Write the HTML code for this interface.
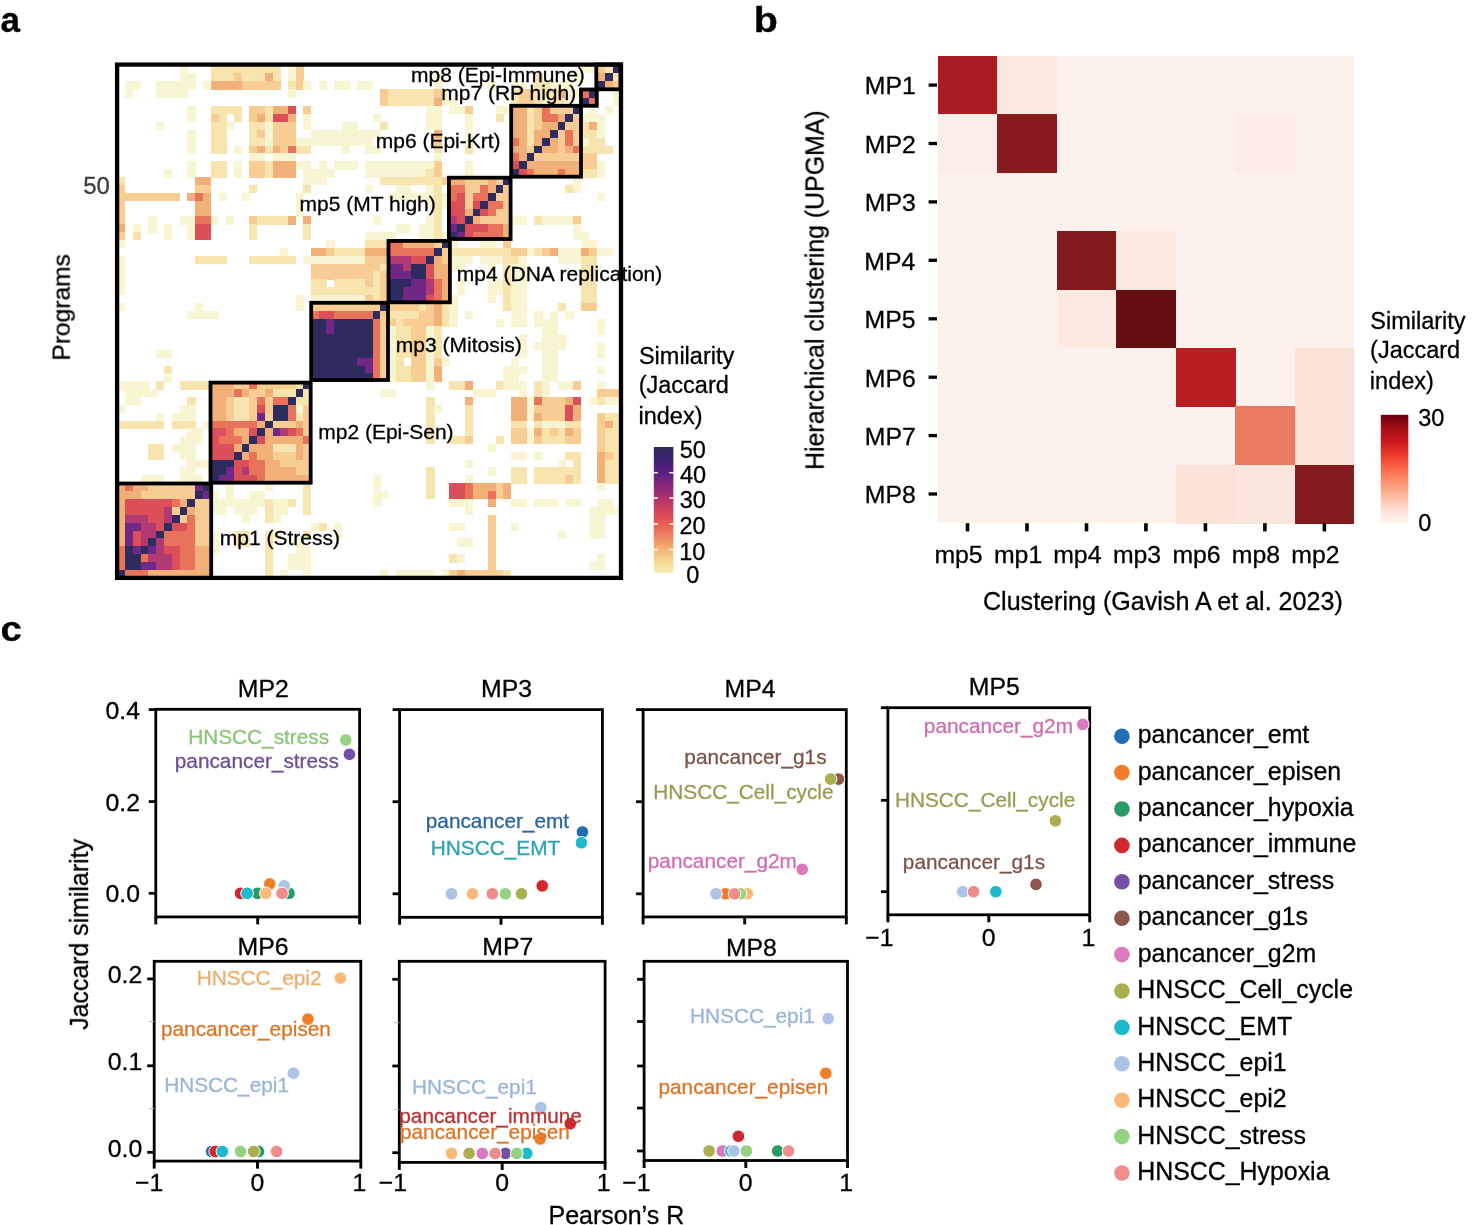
<!DOCTYPE html>
<html><head><meta charset="utf-8"><style>
html,body{margin:0;padding:0;background:#fff;}
svg{display:block;font-family:"Liberation Sans", sans-serif;}
text{stroke-width:0.3px;}
</style></head><body>
<svg width="1473" height="1225" viewBox="0 0 1473 1225">
<rect width="1473" height="1225" fill="#fff"/>
<g style="will-change:transform">
<text transform="translate(0.55,31.6) scale(0.989,1)" font-size="35.5" font-weight="bold" stroke="#000">a</text>
<text transform="translate(69.7,360.65) rotate(-90)" font-size="24.6" fill="#000" stroke="#000">Programs</text>
<text x="83.18" y="194" font-size="24" fill="#3c3c3c" stroke="#3c3c3c">50</text>
<g shape-rendering="crispEdges"><rect x="179.6" y="64.6" width="8.2" height="8.7" fill="#f7f5d2"/><rect x="210.8" y="64.6" width="69.8" height="8.7" fill="#f8e4ae"/><rect x="287.9" y="64.6" width="8.1" height="8.7" fill="#f7f5d2"/><rect x="295.6" y="64.6" width="8.1" height="8.7" fill="#f7cd94"/><rect x="581.0" y="64.6" width="15.9" height="8.7" fill="#f7f5d2"/><rect x="596.5" y="64.6" width="8.6" height="8.7" fill="#f7cd94"/><rect x="604.7" y="64.6" width="8.6" height="8.7" fill="#f8e4ae"/><rect x="612.8" y="64.6" width="8.6" height="8.7" fill="#2e2b5e"/><rect x="179.6" y="72.9" width="16.0" height="8.7" fill="#f7f5d2"/><rect x="210.8" y="72.9" width="23.5" height="8.7" fill="#f8e4ae"/><rect x="233.9" y="72.9" width="8.1" height="8.7" fill="#f7cd94"/><rect x="241.6" y="72.9" width="23.5" height="8.7" fill="#f8e4ae"/><rect x="264.8" y="72.9" width="8.1" height="8.7" fill="#f2b079"/><rect x="272.5" y="72.9" width="8.1" height="8.7" fill="#f8e4ae"/><rect x="287.9" y="72.9" width="8.1" height="8.7" fill="#f7f5d2"/><rect x="295.6" y="72.9" width="8.1" height="8.7" fill="#f7cd94"/><rect x="434.0" y="72.9" width="8.1" height="8.7" fill="#f7f5d2"/><rect x="534.3" y="72.9" width="8.2" height="8.7" fill="#f8e4ae"/><rect x="573.2" y="72.9" width="8.2" height="8.7" fill="#f7f5d2"/><rect x="596.5" y="72.9" width="8.6" height="8.7" fill="#f2b079"/><rect x="604.7" y="72.9" width="8.6" height="8.7" fill="#2e2b5e"/><rect x="612.8" y="72.9" width="8.6" height="8.7" fill="#f8e4ae"/><rect x="124.9" y="81.1" width="16.0" height="8.7" fill="#f7f5d2"/><rect x="156.1" y="81.1" width="39.4" height="8.7" fill="#f7f5d2"/><rect x="203.0" y="81.1" width="8.2" height="8.7" fill="#f7f5d2"/><rect x="210.8" y="81.1" width="31.2" height="8.7" fill="#f2b079"/><rect x="241.6" y="81.1" width="38.9" height="8.7" fill="#f7cd94"/><rect x="287.9" y="81.1" width="8.1" height="8.7" fill="#f8e4ae"/><rect x="295.6" y="81.1" width="8.1" height="8.7" fill="#f7cd94"/><rect x="303.3" y="81.1" width="8.1" height="8.7" fill="#f7f5d2"/><rect x="318.7" y="81.1" width="8.1" height="8.7" fill="#f7f5d2"/><rect x="334.1" y="81.1" width="15.8" height="8.7" fill="#f7f5d2"/><rect x="357.2" y="81.1" width="15.8" height="8.7" fill="#f7f5d2"/><rect x="434.0" y="81.1" width="8.1" height="8.7" fill="#f7f5d2"/><rect x="487.9" y="81.1" width="8.1" height="8.7" fill="#f7f5d2"/><rect x="511.0" y="81.1" width="16.0" height="8.7" fill="#f7f5d2"/><rect x="534.3" y="81.1" width="16.0" height="8.7" fill="#f8e4ae"/><rect x="549.9" y="81.1" width="23.7" height="8.7" fill="#f7f5d2"/><rect x="596.5" y="81.1" width="8.6" height="8.7" fill="#2e2b5e"/><rect x="604.7" y="81.1" width="8.6" height="8.7" fill="#f2b079"/><rect x="612.8" y="81.1" width="8.6" height="8.7" fill="#f7cd94"/><rect x="124.9" y="89.4" width="8.2" height="8.6" fill="#f7f5d2"/><rect x="156.1" y="89.4" width="31.6" height="8.6" fill="#f7f5d2"/><rect x="287.9" y="89.4" width="8.1" height="8.6" fill="#f7f5d2"/><rect x="380.3" y="89.4" width="8.1" height="8.6" fill="#f7cd94"/><rect x="388.0" y="89.4" width="46.4" height="8.6" fill="#f8e4ae"/><rect x="434.0" y="89.4" width="8.1" height="8.6" fill="#f7cd94"/><rect x="441.7" y="89.4" width="8.1" height="8.6" fill="#f7f5d2"/><rect x="511.0" y="89.4" width="8.2" height="8.6" fill="#f8e4ae"/><rect x="518.8" y="89.4" width="16.0" height="8.6" fill="#f7cd94"/><rect x="534.3" y="89.4" width="23.7" height="8.6" fill="#f8e4ae"/><rect x="557.7" y="89.4" width="8.2" height="8.6" fill="#f2b079"/><rect x="565.4" y="89.4" width="16.0" height="8.6" fill="#f7f5d2"/><rect x="581.0" y="89.4" width="8.2" height="8.6" fill="#e8735a"/><rect x="588.8" y="89.4" width="8.2" height="8.6" fill="#2e2b5e"/><rect x="612.8" y="89.4" width="8.6" height="8.6" fill="#f7f5d2"/><rect x="380.3" y="97.6" width="8.1" height="8.6" fill="#f7cd94"/><rect x="388.0" y="97.6" width="46.4" height="8.6" fill="#f8e4ae"/><rect x="434.0" y="97.6" width="8.1" height="8.6" fill="#f2b079"/><rect x="441.7" y="97.6" width="15.8" height="8.6" fill="#f7f5d2"/><rect x="511.0" y="97.6" width="8.2" height="8.6" fill="#f8e4ae"/><rect x="518.8" y="97.6" width="16.0" height="8.6" fill="#f7cd94"/><rect x="534.3" y="97.6" width="8.2" height="8.6" fill="#f8e4ae"/><rect x="542.1" y="97.6" width="8.2" height="8.6" fill="#f7f5d2"/><rect x="549.9" y="97.6" width="16.0" height="8.6" fill="#f8e4ae"/><rect x="565.4" y="97.6" width="8.2" height="8.6" fill="#f7f5d2"/><rect x="581.0" y="97.6" width="8.2" height="8.6" fill="#2e2b5e"/><rect x="588.8" y="97.6" width="8.2" height="8.6" fill="#e8735a"/><rect x="612.8" y="97.6" width="8.6" height="8.6" fill="#f7f5d2"/><rect x="187.4" y="105.8" width="8.2" height="8.3" fill="#f7f5d2"/><rect x="210.8" y="105.8" width="31.2" height="8.3" fill="#f8e4ae"/><rect x="249.3" y="105.8" width="15.8" height="8.3" fill="#f7cd94"/><rect x="264.8" y="105.8" width="8.1" height="8.3" fill="#f8e4ae"/><rect x="272.5" y="105.8" width="15.8" height="8.3" fill="#f2b079"/><rect x="287.9" y="105.8" width="8.1" height="8.3" fill="#db5058"/><rect x="303.3" y="105.8" width="8.1" height="8.3" fill="#f7cd94"/><rect x="426.4" y="105.8" width="15.7" height="8.3" fill="#f7f5d2"/><rect x="449.4" y="105.8" width="15.8" height="8.3" fill="#f7f5d2"/><rect x="464.8" y="105.8" width="8.1" height="8.3" fill="#f7cd94"/><rect x="495.6" y="105.8" width="15.8" height="8.3" fill="#f7f5d2"/><rect x="511.0" y="105.8" width="16.0" height="8.3" fill="#f2b079"/><rect x="526.6" y="105.8" width="8.2" height="8.3" fill="#f8e4ae"/><rect x="534.3" y="105.8" width="8.2" height="8.3" fill="#f7cd94"/><rect x="542.1" y="105.8" width="8.2" height="8.3" fill="#e8735a"/><rect x="549.9" y="105.8" width="23.7" height="8.3" fill="#f7cd94"/><rect x="573.2" y="105.8" width="8.2" height="8.3" fill="#2e2b5e"/><rect x="588.8" y="105.8" width="8.2" height="8.3" fill="#f7f5d2"/><rect x="604.7" y="105.8" width="8.6" height="8.3" fill="#f7f5d2"/><rect x="187.4" y="113.7" width="8.2" height="8.3" fill="#f7f5d2"/><rect x="210.8" y="113.7" width="8.1" height="8.3" fill="#f7cd94"/><rect x="218.5" y="113.7" width="8.1" height="8.3" fill="#f8e4ae"/><rect x="233.9" y="113.7" width="8.1" height="8.3" fill="#f8e4ae"/><rect x="249.3" y="113.7" width="8.1" height="8.3" fill="#f7cd94"/><rect x="257.0" y="113.7" width="8.1" height="8.3" fill="#f2b079"/><rect x="264.8" y="113.7" width="8.1" height="8.3" fill="#f8e4ae"/><rect x="272.5" y="113.7" width="15.8" height="8.3" fill="#db5058"/><rect x="287.9" y="113.7" width="8.1" height="8.3" fill="#f2b079"/><rect x="303.3" y="113.7" width="8.1" height="8.3" fill="#f7f5d2"/><rect x="372.6" y="113.7" width="8.1" height="8.3" fill="#f7f5d2"/><rect x="426.4" y="113.7" width="15.7" height="8.3" fill="#f7f5d2"/><rect x="464.8" y="113.7" width="8.1" height="8.3" fill="#f7f5d2"/><rect x="495.6" y="113.7" width="8.1" height="8.3" fill="#f8e4ae"/><rect x="511.0" y="113.7" width="16.0" height="8.3" fill="#f2b079"/><rect x="526.6" y="113.7" width="8.2" height="8.3" fill="#f8e4ae"/><rect x="534.3" y="113.7" width="8.2" height="8.3" fill="#f7cd94"/><rect x="542.1" y="113.7" width="16.0" height="8.3" fill="#e8735a"/><rect x="557.7" y="113.7" width="8.2" height="8.3" fill="#f2b079"/><rect x="565.4" y="113.7" width="8.2" height="8.3" fill="#2e2b5e"/><rect x="573.2" y="113.7" width="8.2" height="8.3" fill="#f7cd94"/><rect x="581.0" y="113.7" width="24.1" height="8.3" fill="#f7f5d2"/><rect x="156.1" y="121.7" width="8.2" height="8.3" fill="#f7f5d2"/><rect x="210.8" y="121.7" width="15.8" height="8.3" fill="#f8e4ae"/><rect x="226.2" y="121.7" width="8.1" height="8.3" fill="#f7f5d2"/><rect x="249.3" y="121.7" width="15.8" height="8.3" fill="#f8e4ae"/><rect x="264.8" y="121.7" width="8.1" height="8.3" fill="#f7f5d2"/><rect x="272.5" y="121.7" width="23.5" height="8.3" fill="#f7cd94"/><rect x="303.3" y="121.7" width="8.1" height="8.3" fill="#f7f5d2"/><rect x="341.8" y="121.7" width="15.8" height="8.3" fill="#f7f5d2"/><rect x="380.3" y="121.7" width="8.1" height="8.3" fill="#f8e4ae"/><rect x="426.4" y="121.7" width="15.7" height="8.3" fill="#f7f5d2"/><rect x="464.8" y="121.7" width="8.1" height="8.3" fill="#f7f5d2"/><rect x="511.0" y="121.7" width="16.0" height="8.3" fill="#f2b079"/><rect x="526.6" y="121.7" width="8.2" height="8.3" fill="#f8e4ae"/><rect x="534.3" y="121.7" width="8.2" height="8.3" fill="#f7cd94"/><rect x="542.1" y="121.7" width="16.0" height="8.3" fill="#f2b079"/><rect x="557.7" y="121.7" width="8.2" height="8.3" fill="#2e2b5e"/><rect x="565.4" y="121.7" width="16.0" height="8.3" fill="#f7cd94"/><rect x="581.0" y="121.7" width="8.2" height="8.3" fill="#f8e4ae"/><rect x="588.8" y="121.7" width="8.2" height="8.3" fill="#f2b079"/><rect x="596.5" y="121.7" width="8.6" height="8.3" fill="#f7f5d2"/><rect x="187.4" y="129.6" width="8.2" height="8.3" fill="#f7f5d2"/><rect x="210.8" y="129.6" width="15.8" height="8.3" fill="#f8e4ae"/><rect x="249.3" y="129.6" width="8.1" height="8.3" fill="#f8e4ae"/><rect x="257.0" y="129.6" width="8.1" height="8.3" fill="#f7cd94"/><rect x="264.8" y="129.6" width="8.1" height="8.3" fill="#f7f5d2"/><rect x="272.5" y="129.6" width="23.5" height="8.3" fill="#f7cd94"/><rect x="311.0" y="129.6" width="69.7" height="8.3" fill="#f7f5d2"/><rect x="434.0" y="129.6" width="8.1" height="8.3" fill="#f2b079"/><rect x="464.8" y="129.6" width="8.1" height="8.3" fill="#f7f5d2"/><rect x="511.0" y="129.6" width="16.0" height="8.3" fill="#f2b079"/><rect x="526.6" y="129.6" width="8.2" height="8.3" fill="#f8e4ae"/><rect x="534.3" y="129.6" width="16.0" height="8.3" fill="#f2b079"/><rect x="549.9" y="129.6" width="8.2" height="8.3" fill="#2e2b5e"/><rect x="557.7" y="129.6" width="8.2" height="8.3" fill="#f7cd94"/><rect x="565.4" y="129.6" width="8.2" height="8.3" fill="#e8735a"/><rect x="573.2" y="129.6" width="8.2" height="8.3" fill="#f7cd94"/><rect x="581.0" y="129.6" width="15.9" height="8.3" fill="#f8e4ae"/><rect x="596.5" y="129.6" width="8.6" height="8.3" fill="#f7f5d2"/><rect x="187.4" y="137.5" width="8.2" height="8.3" fill="#f7f5d2"/><rect x="210.8" y="137.5" width="15.8" height="8.3" fill="#f8e4ae"/><rect x="249.3" y="137.5" width="15.8" height="8.3" fill="#f8e4ae"/><rect x="264.8" y="137.5" width="8.1" height="8.3" fill="#f7f5d2"/><rect x="272.5" y="137.5" width="23.5" height="8.3" fill="#f7cd94"/><rect x="295.6" y="137.5" width="77.4" height="8.3" fill="#f7f5d2"/><rect x="434.0" y="137.5" width="8.1" height="8.3" fill="#f7cd94"/><rect x="464.8" y="137.5" width="8.1" height="8.3" fill="#f7f5d2"/><rect x="511.0" y="137.5" width="8.2" height="8.3" fill="#e8735a"/><rect x="518.8" y="137.5" width="8.2" height="8.3" fill="#f2b079"/><rect x="526.6" y="137.5" width="8.2" height="8.3" fill="#f8e4ae"/><rect x="534.3" y="137.5" width="8.2" height="8.3" fill="#f2b079"/><rect x="542.1" y="137.5" width="8.2" height="8.3" fill="#2e2b5e"/><rect x="549.9" y="137.5" width="8.2" height="8.3" fill="#f2b079"/><rect x="557.7" y="137.5" width="8.2" height="8.3" fill="#f7cd94"/><rect x="565.4" y="137.5" width="8.2" height="8.3" fill="#e8735a"/><rect x="573.2" y="137.5" width="8.2" height="8.3" fill="#f7cd94"/><rect x="581.0" y="137.5" width="8.2" height="8.3" fill="#f7f5d2"/><rect x="588.8" y="137.5" width="16.3" height="8.3" fill="#f8e4ae"/><rect x="187.4" y="145.5" width="8.2" height="8.3" fill="#f7f5d2"/><rect x="210.8" y="145.5" width="15.8" height="8.3" fill="#f8e4ae"/><rect x="233.9" y="145.5" width="8.1" height="8.3" fill="#f7f5d2"/><rect x="249.3" y="145.5" width="8.1" height="8.3" fill="#f7cd94"/><rect x="257.0" y="145.5" width="8.1" height="8.3" fill="#f2b079"/><rect x="264.8" y="145.5" width="8.1" height="8.3" fill="#f8e4ae"/><rect x="272.5" y="145.5" width="8.1" height="8.3" fill="#f2b079"/><rect x="280.2" y="145.5" width="8.1" height="8.3" fill="#f7cd94"/><rect x="287.9" y="145.5" width="8.1" height="8.3" fill="#e8735a"/><rect x="295.6" y="145.5" width="15.8" height="8.3" fill="#f8e4ae"/><rect x="341.8" y="145.5" width="8.1" height="8.3" fill="#f7f5d2"/><rect x="364.9" y="145.5" width="15.8" height="8.3" fill="#f7f5d2"/><rect x="434.0" y="145.5" width="8.1" height="8.3" fill="#f8e4ae"/><rect x="464.8" y="145.5" width="8.1" height="8.3" fill="#f8e4ae"/><rect x="511.0" y="145.5" width="16.0" height="8.3" fill="#f2b079"/><rect x="526.6" y="145.5" width="8.2" height="8.3" fill="#f7cd94"/><rect x="534.3" y="145.5" width="8.2" height="8.3" fill="#2e2b5e"/><rect x="542.1" y="145.5" width="16.0" height="8.3" fill="#f2b079"/><rect x="557.7" y="145.5" width="8.2" height="8.3" fill="#f7cd94"/><rect x="565.4" y="145.5" width="8.2" height="8.3" fill="#f2b079"/><rect x="573.2" y="145.5" width="8.2" height="8.3" fill="#e8735a"/><rect x="581.0" y="145.5" width="32.2" height="8.3" fill="#f8e4ae"/><rect x="249.3" y="153.4" width="15.8" height="8.3" fill="#f7f5d2"/><rect x="272.5" y="153.4" width="23.5" height="8.3" fill="#f7f5d2"/><rect x="434.0" y="153.4" width="8.1" height="8.3" fill="#f7f5d2"/><rect x="511.0" y="153.4" width="8.2" height="8.3" fill="#e8735a"/><rect x="518.8" y="153.4" width="8.2" height="8.3" fill="#f2b079"/><rect x="526.6" y="153.4" width="8.2" height="8.3" fill="#2e2b5e"/><rect x="534.3" y="153.4" width="62.6" height="8.3" fill="#f7cd94"/><rect x="187.4" y="161.3" width="8.2" height="8.3" fill="#f7f5d2"/><rect x="210.8" y="161.3" width="15.8" height="8.3" fill="#f8e4ae"/><rect x="233.9" y="161.3" width="8.1" height="8.3" fill="#f7f5d2"/><rect x="249.3" y="161.3" width="15.8" height="8.3" fill="#f7cd94"/><rect x="264.8" y="161.3" width="8.1" height="8.3" fill="#f8e4ae"/><rect x="272.5" y="161.3" width="23.5" height="8.3" fill="#f2b079"/><rect x="295.6" y="161.3" width="15.8" height="8.3" fill="#f7f5d2"/><rect x="318.7" y="161.3" width="8.1" height="8.3" fill="#f7f5d2"/><rect x="334.1" y="161.3" width="23.5" height="8.3" fill="#f7f5d2"/><rect x="364.9" y="161.3" width="69.5" height="8.3" fill="#f7f5d2"/><rect x="434.0" y="161.3" width="8.1" height="8.3" fill="#f7cd94"/><rect x="464.8" y="161.3" width="8.1" height="8.3" fill="#f7f5d2"/><rect x="511.0" y="161.3" width="8.2" height="8.3" fill="#db5058"/><rect x="518.8" y="161.3" width="8.2" height="8.3" fill="#2e2b5e"/><rect x="526.6" y="161.3" width="54.8" height="8.3" fill="#f2b079"/><rect x="581.0" y="161.3" width="15.9" height="8.3" fill="#f7cd94"/><rect x="596.5" y="161.3" width="8.6" height="8.3" fill="#f7f5d2"/><rect x="163.9" y="169.3" width="8.2" height="8.3" fill="#f7f5d2"/><rect x="187.4" y="169.3" width="8.2" height="8.3" fill="#f7f5d2"/><rect x="210.8" y="169.3" width="15.8" height="8.3" fill="#f8e4ae"/><rect x="233.9" y="169.3" width="8.1" height="8.3" fill="#f7f5d2"/><rect x="249.3" y="169.3" width="15.8" height="8.3" fill="#f7cd94"/><rect x="264.8" y="169.3" width="8.1" height="8.3" fill="#f8e4ae"/><rect x="272.5" y="169.3" width="23.5" height="8.3" fill="#f2b079"/><rect x="303.3" y="169.3" width="31.2" height="8.3" fill="#f7f5d2"/><rect x="364.9" y="169.3" width="61.9" height="8.3" fill="#f7f5d2"/><rect x="426.4" y="169.3" width="8.1" height="8.3" fill="#f8e4ae"/><rect x="434.0" y="169.3" width="8.1" height="8.3" fill="#f7cd94"/><rect x="464.8" y="169.3" width="8.1" height="8.3" fill="#f7f5d2"/><rect x="511.0" y="169.3" width="8.2" height="8.3" fill="#2e2b5e"/><rect x="518.8" y="169.3" width="8.2" height="8.3" fill="#db5058"/><rect x="526.6" y="169.3" width="8.2" height="8.3" fill="#e8735a"/><rect x="534.3" y="169.3" width="23.7" height="8.3" fill="#f2b079"/><rect x="557.7" y="169.3" width="8.2" height="8.3" fill="#e8735a"/><rect x="565.4" y="169.3" width="16.0" height="8.3" fill="#f2b079"/><rect x="581.0" y="169.3" width="15.9" height="8.3" fill="#f8e4ae"/><rect x="596.5" y="169.3" width="8.6" height="8.3" fill="#f7f5d2"/><rect x="117.1" y="177.2" width="8.2" height="8.2" fill="#f8e4ae"/><rect x="195.2" y="177.2" width="16.0" height="8.2" fill="#f2b079"/><rect x="303.3" y="177.2" width="23.5" height="8.2" fill="#f7f5d2"/><rect x="380.3" y="177.2" width="61.8" height="8.2" fill="#f8e4ae"/><rect x="441.7" y="177.2" width="8.1" height="8.2" fill="#f7cd94"/><rect x="449.4" y="177.2" width="15.8" height="8.2" fill="#f2b079"/><rect x="464.8" y="177.2" width="23.5" height="8.2" fill="#f7cd94"/><rect x="487.9" y="177.2" width="8.1" height="8.2" fill="#f2b079"/><rect x="495.6" y="177.2" width="8.1" height="8.2" fill="#f7cd94"/><rect x="503.3" y="177.2" width="8.1" height="8.2" fill="#2e2b5e"/><rect x="573.2" y="177.2" width="8.2" height="8.2" fill="#f7f5d2"/><rect x="117.1" y="185.0" width="8.2" height="8.2" fill="#f7cd94"/><rect x="195.2" y="185.0" width="16.0" height="8.2" fill="#f7cd94"/><rect x="249.3" y="185.0" width="8.1" height="8.2" fill="#f8e4ae"/><rect x="303.3" y="185.0" width="8.1" height="8.2" fill="#f8e4ae"/><rect x="364.9" y="185.0" width="8.1" height="8.2" fill="#f7f5d2"/><rect x="395.7" y="185.0" width="15.7" height="8.2" fill="#f7f5d2"/><rect x="426.4" y="185.0" width="8.1" height="8.2" fill="#f7f5d2"/><rect x="434.0" y="185.0" width="8.1" height="8.2" fill="#f8e4ae"/><rect x="449.4" y="185.0" width="15.8" height="8.2" fill="#e8735a"/><rect x="464.8" y="185.0" width="15.8" height="8.2" fill="#f7cd94"/><rect x="480.2" y="185.0" width="8.1" height="8.2" fill="#e8735a"/><rect x="487.9" y="185.0" width="8.1" height="8.2" fill="#f2b079"/><rect x="495.6" y="185.0" width="8.1" height="8.2" fill="#2e2b5e"/><rect x="503.3" y="185.0" width="8.1" height="8.2" fill="#f7cd94"/><rect x="565.4" y="185.0" width="8.2" height="8.2" fill="#f8e4ae"/><rect x="573.2" y="185.0" width="8.2" height="8.2" fill="#f7f5d2"/><rect x="117.1" y="192.9" width="62.9" height="8.3" fill="#f7cd94"/><rect x="187.4" y="192.9" width="8.2" height="8.3" fill="#f2b079"/><rect x="195.2" y="192.9" width="8.2" height="8.3" fill="#e8735a"/><rect x="203.0" y="192.9" width="8.2" height="8.3" fill="#f2b079"/><rect x="218.5" y="192.9" width="8.1" height="8.3" fill="#f7f5d2"/><rect x="241.6" y="192.9" width="8.1" height="8.3" fill="#f7f5d2"/><rect x="295.6" y="192.9" width="8.1" height="8.3" fill="#f7f5d2"/><rect x="388.0" y="192.9" width="46.4" height="8.3" fill="#f7f5d2"/><rect x="434.0" y="192.9" width="8.1" height="8.3" fill="#f8e4ae"/><rect x="441.7" y="192.9" width="8.1" height="8.3" fill="#f7f5d2"/><rect x="449.4" y="192.9" width="8.1" height="8.3" fill="#e8735a"/><rect x="457.1" y="192.9" width="8.1" height="8.3" fill="#db5058"/><rect x="464.8" y="192.9" width="8.1" height="8.3" fill="#f7cd94"/><rect x="472.5" y="192.9" width="15.8" height="8.3" fill="#e8735a"/><rect x="487.9" y="192.9" width="8.1" height="8.3" fill="#2e2b5e"/><rect x="495.6" y="192.9" width="15.8" height="8.3" fill="#f7cd94"/><rect x="596.5" y="192.9" width="8.6" height="8.3" fill="#f7f5d2"/><rect x="117.1" y="200.8" width="8.2" height="8.2" fill="#f7cd94"/><rect x="195.2" y="200.8" width="16.0" height="8.2" fill="#f2b079"/><rect x="295.6" y="200.8" width="8.1" height="8.2" fill="#f7f5d2"/><rect x="426.4" y="200.8" width="8.1" height="8.2" fill="#f7f5d2"/><rect x="434.0" y="200.8" width="8.1" height="8.2" fill="#f8e4ae"/><rect x="441.7" y="200.8" width="8.1" height="8.2" fill="#f7f5d2"/><rect x="449.4" y="200.8" width="15.8" height="8.2" fill="#db5058"/><rect x="464.8" y="200.8" width="8.1" height="8.2" fill="#f7cd94"/><rect x="472.5" y="200.8" width="8.1" height="8.2" fill="#db5058"/><rect x="480.2" y="200.8" width="8.1" height="8.2" fill="#2e2b5e"/><rect x="487.9" y="200.8" width="15.8" height="8.2" fill="#e8735a"/><rect x="503.3" y="200.8" width="8.1" height="8.2" fill="#f7cd94"/><rect x="117.1" y="208.6" width="8.2" height="8.2" fill="#f7cd94"/><rect x="195.2" y="208.6" width="16.0" height="8.2" fill="#f2b079"/><rect x="295.6" y="208.6" width="8.1" height="8.2" fill="#f7f5d2"/><rect x="434.0" y="208.6" width="8.1" height="8.2" fill="#f8e4ae"/><rect x="449.4" y="208.6" width="15.8" height="8.2" fill="#db5058"/><rect x="464.8" y="208.6" width="8.1" height="8.2" fill="#f2b079"/><rect x="472.5" y="208.6" width="8.1" height="8.2" fill="#2e2b5e"/><rect x="480.2" y="208.6" width="8.1" height="8.2" fill="#db5058"/><rect x="487.9" y="208.6" width="8.1" height="8.2" fill="#e8735a"/><rect x="495.6" y="208.6" width="15.8" height="8.2" fill="#f7cd94"/><rect x="117.1" y="216.4" width="8.2" height="8.3" fill="#f7cd94"/><rect x="148.3" y="216.4" width="8.2" height="8.3" fill="#f7f5d2"/><rect x="179.6" y="216.4" width="16.0" height="8.3" fill="#f7f5d2"/><rect x="195.2" y="216.4" width="16.0" height="8.3" fill="#e8735a"/><rect x="210.8" y="216.4" width="8.1" height="8.3" fill="#f7f5d2"/><rect x="226.2" y="216.4" width="8.1" height="8.3" fill="#f7f5d2"/><rect x="249.3" y="216.4" width="8.1" height="8.3" fill="#f7cd94"/><rect x="257.0" y="216.4" width="31.2" height="8.3" fill="#f8e4ae"/><rect x="287.9" y="216.4" width="8.1" height="8.3" fill="#f2b079"/><rect x="303.3" y="216.4" width="8.1" height="8.3" fill="#f2b079"/><rect x="372.6" y="216.4" width="8.1" height="8.3" fill="#f7f5d2"/><rect x="426.4" y="216.4" width="8.1" height="8.3" fill="#f7f5d2"/><rect x="434.0" y="216.4" width="8.1" height="8.3" fill="#f8e4ae"/><rect x="449.4" y="216.4" width="8.1" height="8.3" fill="#b23a74"/><rect x="457.1" y="216.4" width="8.1" height="8.3" fill="#db5058"/><rect x="464.8" y="216.4" width="8.1" height="8.3" fill="#2e2b5e"/><rect x="472.5" y="216.4" width="8.1" height="8.3" fill="#f2b079"/><rect x="480.2" y="216.4" width="31.2" height="8.3" fill="#f7cd94"/><rect x="511.0" y="216.4" width="16.0" height="8.3" fill="#f7f5d2"/><rect x="534.3" y="216.4" width="8.2" height="8.3" fill="#f8e4ae"/><rect x="542.1" y="216.4" width="31.5" height="8.3" fill="#f7f5d2"/><rect x="573.2" y="216.4" width="8.2" height="8.3" fill="#f7cd94"/><rect x="117.1" y="224.3" width="8.2" height="8.2" fill="#f2b079"/><rect x="132.7" y="224.3" width="8.2" height="8.2" fill="#f7f5d2"/><rect x="148.3" y="224.3" width="8.2" height="8.2" fill="#f7f5d2"/><rect x="163.9" y="224.3" width="8.2" height="8.2" fill="#f7f5d2"/><rect x="187.4" y="224.3" width="8.2" height="8.2" fill="#f7f5d2"/><rect x="195.2" y="224.3" width="16.0" height="8.2" fill="#db5058"/><rect x="249.3" y="224.3" width="8.1" height="8.2" fill="#f8e4ae"/><rect x="303.3" y="224.3" width="8.1" height="8.2" fill="#f8e4ae"/><rect x="395.7" y="224.3" width="15.7" height="8.2" fill="#f7f5d2"/><rect x="418.7" y="224.3" width="15.7" height="8.2" fill="#f7f5d2"/><rect x="434.0" y="224.3" width="8.1" height="8.2" fill="#f8e4ae"/><rect x="449.4" y="224.3" width="8.1" height="8.2" fill="#702786"/><rect x="457.1" y="224.3" width="8.1" height="8.2" fill="#2e2b5e"/><rect x="464.8" y="224.3" width="23.5" height="8.2" fill="#db5058"/><rect x="487.9" y="224.3" width="15.8" height="8.2" fill="#e8735a"/><rect x="503.3" y="224.3" width="8.1" height="8.2" fill="#f2b079"/><rect x="573.2" y="224.3" width="8.2" height="8.2" fill="#f7f5d2"/><rect x="117.1" y="232.2" width="8.2" height="8.2" fill="#f7cd94"/><rect x="132.7" y="232.2" width="8.2" height="8.2" fill="#f8e4ae"/><rect x="163.9" y="232.2" width="8.2" height="8.2" fill="#f7f5d2"/><rect x="187.4" y="232.2" width="8.2" height="8.2" fill="#f7f5d2"/><rect x="195.2" y="232.2" width="16.0" height="8.2" fill="#db5058"/><rect x="249.3" y="232.2" width="8.1" height="8.2" fill="#f8e4ae"/><rect x="303.3" y="232.2" width="8.1" height="8.2" fill="#f8e4ae"/><rect x="364.9" y="232.2" width="31.2" height="8.2" fill="#f7f5d2"/><rect x="418.7" y="232.2" width="15.7" height="8.2" fill="#f7f5d2"/><rect x="434.0" y="232.2" width="8.1" height="8.2" fill="#f8e4ae"/><rect x="441.7" y="232.2" width="8.1" height="8.2" fill="#f7f5d2"/><rect x="449.4" y="232.2" width="8.1" height="8.2" fill="#2e2b5e"/><rect x="457.1" y="232.2" width="8.1" height="8.2" fill="#702786"/><rect x="464.8" y="232.2" width="8.1" height="8.2" fill="#db5058"/><rect x="472.5" y="232.2" width="31.2" height="8.2" fill="#e8735a"/><rect x="503.3" y="232.2" width="8.1" height="8.2" fill="#f2b079"/><rect x="573.2" y="232.2" width="15.9" height="8.2" fill="#f7f5d2"/><rect x="117.1" y="240.0" width="8.2" height="8.2" fill="#f7f5d2"/><rect x="326.4" y="240.0" width="8.1" height="8.2" fill="#f7f5d2"/><rect x="364.9" y="240.0" width="23.5" height="8.2" fill="#f8e4ae"/><rect x="388.0" y="240.0" width="15.8" height="8.2" fill="#e8735a"/><rect x="403.4" y="240.0" width="31.1" height="8.2" fill="#f2b079"/><rect x="434.0" y="240.0" width="8.1" height="8.2" fill="#f7cd94"/><rect x="441.7" y="240.0" width="8.1" height="8.2" fill="#2e2b5e"/><rect x="449.4" y="240.0" width="8.1" height="8.2" fill="#f7f5d2"/><rect x="480.2" y="240.0" width="15.8" height="8.2" fill="#f7f5d2"/><rect x="503.3" y="240.0" width="8.1" height="8.2" fill="#f7cd94"/><rect x="581.0" y="240.0" width="15.9" height="8.2" fill="#f7f5d2"/><rect x="280.2" y="247.8" width="8.1" height="8.2" fill="#f7f5d2"/><rect x="311.0" y="247.8" width="15.8" height="8.2" fill="#f2b079"/><rect x="326.4" y="247.8" width="8.1" height="8.2" fill="#f7cd94"/><rect x="334.1" y="247.8" width="31.2" height="8.2" fill="#f8e4ae"/><rect x="364.9" y="247.8" width="23.5" height="8.2" fill="#f2b079"/><rect x="388.0" y="247.8" width="46.4" height="8.2" fill="#e8735a"/><rect x="434.0" y="247.8" width="8.1" height="8.2" fill="#2e2b5e"/><rect x="441.7" y="247.8" width="8.1" height="8.2" fill="#f7cd94"/><rect x="449.4" y="247.8" width="62.0" height="8.2" fill="#f8e4ae"/><rect x="511.0" y="247.8" width="16.0" height="8.2" fill="#f7cd94"/><rect x="526.6" y="247.8" width="8.2" height="8.2" fill="#f7f5d2"/><rect x="534.3" y="247.8" width="8.2" height="8.2" fill="#f8e4ae"/><rect x="542.1" y="247.8" width="8.2" height="8.2" fill="#f7cd94"/><rect x="549.9" y="247.8" width="8.2" height="8.2" fill="#f2b079"/><rect x="557.7" y="247.8" width="23.7" height="8.2" fill="#f7f5d2"/><rect x="581.0" y="247.8" width="8.2" height="8.2" fill="#f2b079"/><rect x="588.8" y="247.8" width="8.2" height="8.2" fill="#f7cd94"/><rect x="596.5" y="247.8" width="16.7" height="8.2" fill="#f7f5d2"/><rect x="117.1" y="255.7" width="8.2" height="8.3" fill="#f7f5d2"/><rect x="195.2" y="255.7" width="31.4" height="8.3" fill="#f8e4ae"/><rect x="249.3" y="255.7" width="46.6" height="8.3" fill="#f8e4ae"/><rect x="303.3" y="255.7" width="62.0" height="8.3" fill="#f7f5d2"/><rect x="364.9" y="255.7" width="23.5" height="8.3" fill="#f7cd94"/><rect x="388.0" y="255.7" width="23.4" height="8.3" fill="#b23a74"/><rect x="411.0" y="255.7" width="15.8" height="8.3" fill="#db5058"/><rect x="426.4" y="255.7" width="8.1" height="8.3" fill="#2e2b5e"/><rect x="434.0" y="255.7" width="8.1" height="8.3" fill="#f2b079"/><rect x="441.7" y="255.7" width="8.1" height="8.3" fill="#f7cd94"/><rect x="449.4" y="255.7" width="23.5" height="8.3" fill="#f7f5d2"/><rect x="480.2" y="255.7" width="23.5" height="8.3" fill="#f7f5d2"/><rect x="503.3" y="255.7" width="15.9" height="8.3" fill="#f8e4ae"/><rect x="518.8" y="255.7" width="8.2" height="8.3" fill="#f7f5d2"/><rect x="557.7" y="255.7" width="23.7" height="8.3" fill="#f7f5d2"/><rect x="581.0" y="255.7" width="15.9" height="8.3" fill="#f8e4ae"/><rect x="117.1" y="263.6" width="8.2" height="8.2" fill="#f7f5d2"/><rect x="311.0" y="263.6" width="69.7" height="8.2" fill="#f7cd94"/><rect x="380.3" y="263.6" width="8.1" height="8.2" fill="#f8e4ae"/><rect x="388.0" y="263.6" width="15.8" height="8.2" fill="#702786"/><rect x="403.4" y="263.6" width="8.1" height="8.2" fill="#b23a74"/><rect x="411.0" y="263.6" width="15.8" height="8.2" fill="#2e2b5e"/><rect x="426.4" y="263.6" width="8.1" height="8.2" fill="#db5058"/><rect x="434.0" y="263.6" width="15.8" height="8.2" fill="#f2b079"/><rect x="449.4" y="263.6" width="15.8" height="8.2" fill="#f7f5d2"/><rect x="487.9" y="263.6" width="8.1" height="8.2" fill="#f7f5d2"/><rect x="503.3" y="263.6" width="8.1" height="8.2" fill="#f8e4ae"/><rect x="511.0" y="263.6" width="16.0" height="8.2" fill="#f7f5d2"/><rect x="581.0" y="263.6" width="15.9" height="8.2" fill="#f8e4ae"/><rect x="117.1" y="271.4" width="8.2" height="8.3" fill="#f7f5d2"/><rect x="311.0" y="271.4" width="62.0" height="8.3" fill="#f7cd94"/><rect x="372.6" y="271.4" width="8.1" height="8.3" fill="#f8e4ae"/><rect x="380.3" y="271.4" width="8.1" height="8.3" fill="#f7cd94"/><rect x="388.0" y="271.4" width="23.4" height="8.3" fill="#702786"/><rect x="411.0" y="271.4" width="15.8" height="8.3" fill="#2e2b5e"/><rect x="426.4" y="271.4" width="8.1" height="8.3" fill="#db5058"/><rect x="434.0" y="271.4" width="15.8" height="8.3" fill="#f2b079"/><rect x="487.9" y="271.4" width="8.1" height="8.3" fill="#f7f5d2"/><rect x="503.3" y="271.4" width="8.1" height="8.3" fill="#f8e4ae"/><rect x="511.0" y="271.4" width="16.0" height="8.3" fill="#f7f5d2"/><rect x="581.0" y="271.4" width="15.9" height="8.3" fill="#f8e4ae"/><rect x="117.1" y="279.2" width="8.2" height="8.3" fill="#f7f5d2"/><rect x="311.0" y="279.2" width="15.8" height="8.3" fill="#f8e4ae"/><rect x="334.1" y="279.2" width="31.2" height="8.3" fill="#f8e4ae"/><rect x="364.9" y="279.2" width="8.1" height="8.3" fill="#f7cd94"/><rect x="372.6" y="279.2" width="8.1" height="8.3" fill="#f8e4ae"/><rect x="380.3" y="279.2" width="8.1" height="8.3" fill="#f7cd94"/><rect x="388.0" y="279.2" width="23.4" height="8.3" fill="#2e2b5e"/><rect x="411.0" y="279.2" width="15.8" height="8.3" fill="#702786"/><rect x="426.4" y="279.2" width="8.1" height="8.3" fill="#b23a74"/><rect x="434.0" y="279.2" width="8.1" height="8.3" fill="#e8735a"/><rect x="441.7" y="279.2" width="8.1" height="8.3" fill="#f2b079"/><rect x="457.1" y="279.2" width="8.1" height="8.3" fill="#f7f5d2"/><rect x="487.9" y="279.2" width="15.8" height="8.3" fill="#f7f5d2"/><rect x="503.3" y="279.2" width="8.1" height="8.3" fill="#f8e4ae"/><rect x="511.0" y="279.2" width="16.0" height="8.3" fill="#f7f5d2"/><rect x="581.0" y="279.2" width="15.9" height="8.3" fill="#f8e4ae"/><rect x="117.1" y="287.1" width="8.2" height="8.2" fill="#f7f5d2"/><rect x="311.0" y="287.1" width="69.7" height="8.2" fill="#f8e4ae"/><rect x="380.3" y="287.1" width="8.1" height="8.2" fill="#f7cd94"/><rect x="388.0" y="287.1" width="15.8" height="8.2" fill="#2e2b5e"/><rect x="403.4" y="287.1" width="23.4" height="8.2" fill="#702786"/><rect x="426.4" y="287.1" width="8.1" height="8.2" fill="#b23a74"/><rect x="434.0" y="287.1" width="8.1" height="8.2" fill="#e8735a"/><rect x="441.7" y="287.1" width="8.1" height="8.2" fill="#f2b079"/><rect x="457.1" y="287.1" width="8.1" height="8.2" fill="#f7f5d2"/><rect x="487.9" y="287.1" width="15.8" height="8.2" fill="#f7f5d2"/><rect x="503.3" y="287.1" width="8.1" height="8.2" fill="#f8e4ae"/><rect x="511.0" y="287.1" width="16.0" height="8.2" fill="#f7f5d2"/><rect x="581.0" y="287.1" width="15.9" height="8.2" fill="#f8e4ae"/><rect x="295.6" y="294.9" width="8.1" height="8.3" fill="#f7f5d2"/><rect x="311.0" y="294.9" width="54.3" height="8.3" fill="#f7f5d2"/><rect x="364.9" y="294.9" width="8.1" height="8.3" fill="#f7cd94"/><rect x="372.6" y="294.9" width="8.1" height="8.3" fill="#f8e4ae"/><rect x="380.3" y="294.9" width="8.1" height="8.3" fill="#f7cd94"/><rect x="388.0" y="294.9" width="15.8" height="8.3" fill="#2e2b5e"/><rect x="403.4" y="294.9" width="23.4" height="8.3" fill="#702786"/><rect x="426.4" y="294.9" width="8.1" height="8.3" fill="#db5058"/><rect x="434.0" y="294.9" width="8.1" height="8.3" fill="#e8735a"/><rect x="441.7" y="294.9" width="8.1" height="8.3" fill="#f2b079"/><rect x="449.4" y="294.9" width="8.1" height="8.3" fill="#f7f5d2"/><rect x="487.9" y="294.9" width="8.1" height="8.3" fill="#f7f5d2"/><rect x="503.3" y="294.9" width="8.1" height="8.3" fill="#f8e4ae"/><rect x="511.0" y="294.9" width="16.0" height="8.3" fill="#f7f5d2"/><rect x="581.0" y="294.9" width="15.9" height="8.3" fill="#f8e4ae"/><rect x="117.1" y="302.8" width="8.2" height="8.3" fill="#f7f5d2"/><rect x="195.2" y="302.8" width="8.2" height="8.3" fill="#f7f5d2"/><rect x="295.6" y="302.8" width="8.1" height="8.3" fill="#f7f5d2"/><rect x="311.0" y="302.8" width="69.7" height="8.3" fill="#f7cd94"/><rect x="380.3" y="302.8" width="8.1" height="8.3" fill="#2e2b5e"/><rect x="388.0" y="302.8" width="31.1" height="8.3" fill="#f7cd94"/><rect x="418.7" y="302.8" width="8.1" height="8.3" fill="#f8e4ae"/><rect x="426.4" y="302.8" width="8.1" height="8.3" fill="#f7cd94"/><rect x="434.0" y="302.8" width="8.1" height="8.3" fill="#f2b079"/><rect x="441.7" y="302.8" width="8.1" height="8.3" fill="#f8e4ae"/><rect x="449.4" y="302.8" width="8.1" height="8.3" fill="#f7f5d2"/><rect x="503.3" y="302.8" width="8.1" height="8.3" fill="#f8e4ae"/><rect x="511.0" y="302.8" width="16.0" height="8.3" fill="#f7f5d2"/><rect x="557.7" y="302.8" width="8.2" height="8.3" fill="#f8e4ae"/><rect x="581.0" y="302.8" width="15.9" height="8.3" fill="#f7cd94"/><rect x="187.4" y="310.7" width="31.5" height="8.2" fill="#f7f5d2"/><rect x="311.0" y="310.7" width="8.1" height="8.2" fill="#e8735a"/><rect x="318.7" y="310.7" width="15.8" height="8.2" fill="#db5058"/><rect x="334.1" y="310.7" width="38.9" height="8.2" fill="#e8735a"/><rect x="372.6" y="310.7" width="8.1" height="8.2" fill="#2e2b5e"/><rect x="380.3" y="310.7" width="8.1" height="8.2" fill="#f7cd94"/><rect x="388.0" y="310.7" width="31.1" height="8.2" fill="#f8e4ae"/><rect x="418.7" y="310.7" width="15.7" height="8.2" fill="#f7cd94"/><rect x="434.0" y="310.7" width="8.1" height="8.2" fill="#f2b079"/><rect x="441.7" y="310.7" width="8.1" height="8.2" fill="#f8e4ae"/><rect x="449.4" y="310.7" width="8.1" height="8.2" fill="#f7f5d2"/><rect x="464.8" y="310.7" width="8.1" height="8.2" fill="#f7f5d2"/><rect x="511.0" y="310.7" width="16.0" height="8.2" fill="#f7f5d2"/><rect x="534.3" y="310.7" width="8.2" height="8.2" fill="#f7f5d2"/><rect x="549.9" y="310.7" width="8.2" height="8.2" fill="#f7f5d2"/><rect x="565.4" y="310.7" width="8.2" height="8.2" fill="#f7f5d2"/><rect x="311.0" y="318.5" width="15.8" height="8.3" fill="#2e2b5e"/><rect x="326.4" y="318.5" width="8.1" height="8.3" fill="#702786"/><rect x="334.1" y="318.5" width="38.9" height="8.3" fill="#2e2b5e"/><rect x="372.6" y="318.5" width="8.1" height="8.3" fill="#e8735a"/><rect x="380.3" y="318.5" width="15.8" height="8.3" fill="#f7cd94"/><rect x="395.7" y="318.5" width="8.1" height="8.3" fill="#f8e4ae"/><rect x="403.4" y="318.5" width="31.1" height="8.3" fill="#f7cd94"/><rect x="434.0" y="318.5" width="8.1" height="8.3" fill="#f2b079"/><rect x="441.7" y="318.5" width="8.1" height="8.3" fill="#f8e4ae"/><rect x="449.4" y="318.5" width="8.1" height="8.3" fill="#f7f5d2"/><rect x="495.6" y="318.5" width="8.1" height="8.3" fill="#f7f5d2"/><rect x="511.0" y="318.5" width="16.0" height="8.3" fill="#f7f5d2"/><rect x="534.3" y="318.5" width="23.7" height="8.3" fill="#f7f5d2"/><rect x="596.5" y="318.5" width="8.6" height="8.3" fill="#f7f5d2"/><rect x="311.0" y="326.4" width="15.8" height="8.2" fill="#2e2b5e"/><rect x="326.4" y="326.4" width="8.1" height="8.2" fill="#702786"/><rect x="334.1" y="326.4" width="38.9" height="8.2" fill="#2e2b5e"/><rect x="372.6" y="326.4" width="8.1" height="8.2" fill="#e8735a"/><rect x="380.3" y="326.4" width="8.1" height="8.2" fill="#f7cd94"/><rect x="388.0" y="326.4" width="8.1" height="8.2" fill="#f7f5d2"/><rect x="395.7" y="326.4" width="15.7" height="8.2" fill="#f8e4ae"/><rect x="411.0" y="326.4" width="15.8" height="8.2" fill="#f7cd94"/><rect x="426.4" y="326.4" width="8.1" height="8.2" fill="#f7f5d2"/><rect x="434.0" y="326.4" width="8.1" height="8.2" fill="#f8e4ae"/><rect x="542.1" y="326.4" width="16.0" height="8.2" fill="#f7f5d2"/><rect x="596.5" y="326.4" width="8.6" height="8.2" fill="#f7f5d2"/><rect x="311.0" y="334.2" width="62.0" height="8.3" fill="#2e2b5e"/><rect x="372.6" y="334.2" width="8.1" height="8.3" fill="#e8735a"/><rect x="380.3" y="334.2" width="8.1" height="8.3" fill="#f7cd94"/><rect x="388.0" y="334.2" width="8.1" height="8.3" fill="#f7f5d2"/><rect x="395.7" y="334.2" width="15.7" height="8.3" fill="#f8e4ae"/><rect x="411.0" y="334.2" width="15.8" height="8.3" fill="#f7cd94"/><rect x="426.4" y="334.2" width="8.1" height="8.3" fill="#f7f5d2"/><rect x="434.0" y="334.2" width="8.1" height="8.3" fill="#f8e4ae"/><rect x="518.8" y="334.2" width="8.2" height="8.3" fill="#f7f5d2"/><rect x="542.1" y="334.2" width="23.7" height="8.3" fill="#f7f5d2"/><rect x="311.0" y="342.1" width="62.0" height="8.2" fill="#2e2b5e"/><rect x="372.6" y="342.1" width="8.1" height="8.2" fill="#e8735a"/><rect x="380.3" y="342.1" width="8.1" height="8.2" fill="#f7cd94"/><rect x="388.0" y="342.1" width="8.1" height="8.2" fill="#f7f5d2"/><rect x="395.7" y="342.1" width="15.7" height="8.2" fill="#f8e4ae"/><rect x="411.0" y="342.1" width="15.8" height="8.2" fill="#f7cd94"/><rect x="426.4" y="342.1" width="8.1" height="8.2" fill="#f7f5d2"/><rect x="434.0" y="342.1" width="8.1" height="8.2" fill="#f8e4ae"/><rect x="518.8" y="342.1" width="8.2" height="8.2" fill="#f7f5d2"/><rect x="534.3" y="342.1" width="31.5" height="8.2" fill="#f7f5d2"/><rect x="596.5" y="342.1" width="8.6" height="8.2" fill="#f7f5d2"/><rect x="156.1" y="349.9" width="16.0" height="8.3" fill="#f7f5d2"/><rect x="311.0" y="349.9" width="62.0" height="8.3" fill="#2e2b5e"/><rect x="372.6" y="349.9" width="8.1" height="8.3" fill="#e8735a"/><rect x="380.3" y="349.9" width="8.1" height="8.3" fill="#f7cd94"/><rect x="388.0" y="349.9" width="8.1" height="8.3" fill="#f7f5d2"/><rect x="395.7" y="349.9" width="15.7" height="8.3" fill="#f8e4ae"/><rect x="411.0" y="349.9" width="15.8" height="8.3" fill="#f7cd94"/><rect x="426.4" y="349.9" width="8.1" height="8.3" fill="#f7f5d2"/><rect x="434.0" y="349.9" width="8.1" height="8.3" fill="#f8e4ae"/><rect x="518.8" y="349.9" width="8.2" height="8.3" fill="#f7f5d2"/><rect x="542.1" y="349.9" width="16.0" height="8.3" fill="#f7f5d2"/><rect x="596.5" y="349.9" width="8.6" height="8.3" fill="#f7f5d2"/><rect x="311.0" y="357.8" width="46.6" height="8.3" fill="#2e2b5e"/><rect x="357.2" y="357.8" width="15.8" height="8.3" fill="#702786"/><rect x="372.6" y="357.8" width="8.1" height="8.3" fill="#e8735a"/><rect x="380.3" y="357.8" width="8.1" height="8.3" fill="#f7cd94"/><rect x="388.0" y="357.8" width="8.1" height="8.3" fill="#f7f5d2"/><rect x="395.7" y="357.8" width="8.1" height="8.3" fill="#f8e4ae"/><rect x="411.0" y="357.8" width="15.8" height="8.3" fill="#f7cd94"/><rect x="426.4" y="357.8" width="8.1" height="8.3" fill="#f7f5d2"/><rect x="434.0" y="357.8" width="8.1" height="8.3" fill="#f7cd94"/><rect x="441.7" y="357.8" width="8.1" height="8.3" fill="#f7f5d2"/><rect x="511.0" y="357.8" width="8.2" height="8.3" fill="#f7f5d2"/><rect x="542.1" y="357.8" width="16.0" height="8.3" fill="#f7f5d2"/><rect x="163.9" y="365.6" width="8.2" height="8.2" fill="#f8e4ae"/><rect x="311.0" y="365.6" width="54.3" height="8.2" fill="#2e2b5e"/><rect x="364.9" y="365.6" width="8.1" height="8.2" fill="#702786"/><rect x="372.6" y="365.6" width="8.1" height="8.2" fill="#e8735a"/><rect x="380.3" y="365.6" width="8.1" height="8.2" fill="#f7cd94"/><rect x="388.0" y="365.6" width="8.1" height="8.2" fill="#f7f5d2"/><rect x="395.7" y="365.6" width="15.7" height="8.2" fill="#f8e4ae"/><rect x="411.0" y="365.6" width="15.8" height="8.2" fill="#f7cd94"/><rect x="426.4" y="365.6" width="8.1" height="8.2" fill="#f7f5d2"/><rect x="434.0" y="365.6" width="8.1" height="8.2" fill="#f2b079"/><rect x="503.3" y="365.6" width="23.7" height="8.2" fill="#f7f5d2"/><rect x="542.1" y="365.6" width="16.0" height="8.2" fill="#f7f5d2"/><rect x="596.5" y="365.6" width="8.6" height="8.2" fill="#f7f5d2"/><rect x="163.9" y="373.4" width="8.2" height="8.3" fill="#f7f5d2"/><rect x="311.0" y="373.4" width="62.0" height="8.3" fill="#2e2b5e"/><rect x="372.6" y="373.4" width="8.1" height="8.3" fill="#e8735a"/><rect x="380.3" y="373.4" width="8.1" height="8.3" fill="#f7cd94"/><rect x="388.0" y="373.4" width="8.1" height="8.3" fill="#f7f5d2"/><rect x="395.7" y="373.4" width="15.7" height="8.3" fill="#f8e4ae"/><rect x="411.0" y="373.4" width="15.8" height="8.3" fill="#f7cd94"/><rect x="426.4" y="373.4" width="8.1" height="8.3" fill="#f7f5d2"/><rect x="434.0" y="373.4" width="8.1" height="8.3" fill="#f2b079"/><rect x="503.3" y="373.4" width="15.9" height="8.3" fill="#f7f5d2"/><rect x="542.1" y="373.4" width="16.0" height="8.3" fill="#f7f5d2"/><rect x="117.1" y="381.3" width="31.6" height="8.2" fill="#f7f5d2"/><rect x="156.1" y="381.3" width="8.2" height="8.2" fill="#f8e4ae"/><rect x="179.6" y="381.3" width="31.6" height="8.2" fill="#f8e4ae"/><rect x="210.8" y="381.3" width="23.5" height="8.2" fill="#f2b079"/><rect x="233.9" y="381.3" width="15.8" height="8.2" fill="#f7cd94"/><rect x="249.3" y="381.3" width="8.1" height="8.2" fill="#e8735a"/><rect x="257.0" y="381.3" width="38.9" height="8.2" fill="#f7cd94"/><rect x="295.6" y="381.3" width="8.1" height="8.2" fill="#f8e4ae"/><rect x="303.3" y="381.3" width="8.1" height="8.2" fill="#2e2b5e"/><rect x="426.4" y="381.3" width="8.1" height="8.2" fill="#f7f5d2"/><rect x="449.4" y="381.3" width="15.8" height="8.2" fill="#f8e4ae"/><rect x="464.8" y="381.3" width="8.1" height="8.2" fill="#f2b079"/><rect x="495.6" y="381.3" width="8.1" height="8.2" fill="#f8e4ae"/><rect x="503.3" y="381.3" width="23.7" height="8.2" fill="#f7f5d2"/><rect x="534.3" y="381.3" width="8.2" height="8.2" fill="#f8e4ae"/><rect x="542.1" y="381.3" width="8.2" height="8.2" fill="#f7f5d2"/><rect x="557.7" y="381.3" width="16.0" height="8.2" fill="#f7f5d2"/><rect x="573.2" y="381.3" width="8.2" height="8.2" fill="#f7cd94"/><rect x="596.5" y="381.3" width="8.6" height="8.2" fill="#f7f5d2"/><rect x="124.9" y="389.1" width="31.6" height="8.2" fill="#f7f5d2"/><rect x="210.8" y="389.1" width="23.5" height="8.2" fill="#f2b079"/><rect x="233.9" y="389.1" width="8.1" height="8.2" fill="#e8735a"/><rect x="241.6" y="389.1" width="8.1" height="8.2" fill="#f2b079"/><rect x="249.3" y="389.1" width="15.8" height="8.2" fill="#f7cd94"/><rect x="264.8" y="389.1" width="8.1" height="8.2" fill="#f2b079"/><rect x="272.5" y="389.1" width="23.5" height="8.2" fill="#f8e4ae"/><rect x="295.6" y="389.1" width="8.1" height="8.2" fill="#2e2b5e"/><rect x="303.3" y="389.1" width="8.1" height="8.2" fill="#f8e4ae"/><rect x="380.3" y="389.1" width="15.8" height="8.2" fill="#f7f5d2"/><rect x="472.5" y="389.1" width="23.5" height="8.2" fill="#f7f5d2"/><rect x="518.8" y="389.1" width="8.2" height="8.2" fill="#f7f5d2"/><rect x="534.3" y="389.1" width="8.2" height="8.2" fill="#f8e4ae"/><rect x="542.1" y="389.1" width="8.2" height="8.2" fill="#f7f5d2"/><rect x="596.5" y="389.1" width="24.9" height="8.2" fill="#f7cd94"/><rect x="124.9" y="397.0" width="16.0" height="8.2" fill="#f7f5d2"/><rect x="187.4" y="397.0" width="8.2" height="8.2" fill="#f8e4ae"/><rect x="210.8" y="397.0" width="15.8" height="8.2" fill="#f2b079"/><rect x="226.2" y="397.0" width="8.1" height="8.2" fill="#f7cd94"/><rect x="233.9" y="397.0" width="15.8" height="8.2" fill="#f8e4ae"/><rect x="249.3" y="397.0" width="8.1" height="8.2" fill="#f7cd94"/><rect x="257.0" y="397.0" width="8.1" height="8.2" fill="#e8735a"/><rect x="264.8" y="397.0" width="8.1" height="8.2" fill="#f7cd94"/><rect x="272.5" y="397.0" width="15.8" height="8.2" fill="#e8735a"/><rect x="287.9" y="397.0" width="8.1" height="8.2" fill="#2e2b5e"/><rect x="295.6" y="397.0" width="15.8" height="8.2" fill="#f8e4ae"/><rect x="426.4" y="397.0" width="8.1" height="8.2" fill="#f8e4ae"/><rect x="464.8" y="397.0" width="8.1" height="8.2" fill="#f2b079"/><rect x="511.0" y="397.0" width="16.0" height="8.2" fill="#f2b079"/><rect x="526.6" y="397.0" width="8.2" height="8.2" fill="#f7f5d2"/><rect x="534.3" y="397.0" width="8.2" height="8.2" fill="#e8735a"/><rect x="542.1" y="397.0" width="23.7" height="8.2" fill="#f7cd94"/><rect x="565.4" y="397.0" width="8.2" height="8.2" fill="#f2b079"/><rect x="573.2" y="397.0" width="8.2" height="8.2" fill="#db5058"/><rect x="588.8" y="397.0" width="8.2" height="8.2" fill="#f7f5d2"/><rect x="596.5" y="397.0" width="8.6" height="8.2" fill="#f8e4ae"/><rect x="604.7" y="397.0" width="16.7" height="8.2" fill="#f7f5d2"/><rect x="117.1" y="404.8" width="8.2" height="8.2" fill="#f7f5d2"/><rect x="179.6" y="404.8" width="16.0" height="8.2" fill="#f7f5d2"/><rect x="210.8" y="404.8" width="15.8" height="8.2" fill="#f2b079"/><rect x="226.2" y="404.8" width="8.1" height="8.2" fill="#f7cd94"/><rect x="233.9" y="404.8" width="15.8" height="8.2" fill="#f8e4ae"/><rect x="249.3" y="404.8" width="8.1" height="8.2" fill="#f7cd94"/><rect x="257.0" y="404.8" width="8.1" height="8.2" fill="#db5058"/><rect x="264.8" y="404.8" width="8.1" height="8.2" fill="#f7cd94"/><rect x="272.5" y="404.8" width="15.8" height="8.2" fill="#2e2b5e"/><rect x="287.9" y="404.8" width="8.1" height="8.2" fill="#e8735a"/><rect x="295.6" y="404.8" width="8.1" height="8.2" fill="#f7f5d2"/><rect x="303.3" y="404.8" width="8.1" height="8.2" fill="#f7cd94"/><rect x="426.4" y="404.8" width="8.1" height="8.2" fill="#f8e4ae"/><rect x="434.0" y="404.8" width="8.1" height="8.2" fill="#f7f5d2"/><rect x="464.8" y="404.8" width="8.1" height="8.2" fill="#f8e4ae"/><rect x="511.0" y="404.8" width="16.0" height="8.2" fill="#f2b079"/><rect x="526.6" y="404.8" width="8.2" height="8.2" fill="#f7f5d2"/><rect x="534.3" y="404.8" width="31.5" height="8.2" fill="#f7cd94"/><rect x="565.4" y="404.8" width="8.2" height="8.2" fill="#db5058"/><rect x="573.2" y="404.8" width="8.2" height="8.2" fill="#f2b079"/><rect x="156.1" y="412.6" width="8.2" height="8.2" fill="#f7f5d2"/><rect x="171.8" y="412.6" width="23.8" height="8.2" fill="#f7f5d2"/><rect x="210.8" y="412.6" width="15.8" height="8.2" fill="#f2b079"/><rect x="226.2" y="412.6" width="8.1" height="8.2" fill="#f7cd94"/><rect x="233.9" y="412.6" width="15.8" height="8.2" fill="#f8e4ae"/><rect x="249.3" y="412.6" width="8.1" height="8.2" fill="#f7cd94"/><rect x="257.0" y="412.6" width="8.1" height="8.2" fill="#702786"/><rect x="264.8" y="412.6" width="8.1" height="8.2" fill="#f7cd94"/><rect x="272.5" y="412.6" width="15.8" height="8.2" fill="#2e2b5e"/><rect x="287.9" y="412.6" width="8.1" height="8.2" fill="#e8735a"/><rect x="295.6" y="412.6" width="8.1" height="8.2" fill="#f8e4ae"/><rect x="303.3" y="412.6" width="8.1" height="8.2" fill="#f7cd94"/><rect x="426.4" y="412.6" width="8.1" height="8.2" fill="#f8e4ae"/><rect x="464.8" y="412.6" width="8.1" height="8.2" fill="#f8e4ae"/><rect x="511.0" y="412.6" width="16.0" height="8.2" fill="#f2b079"/><rect x="526.6" y="412.6" width="8.2" height="8.2" fill="#f7f5d2"/><rect x="534.3" y="412.6" width="8.2" height="8.2" fill="#f2b079"/><rect x="542.1" y="412.6" width="23.7" height="8.2" fill="#f7cd94"/><rect x="565.4" y="412.6" width="8.2" height="8.2" fill="#db5058"/><rect x="573.2" y="412.6" width="8.2" height="8.2" fill="#f2b079"/><rect x="596.5" y="412.6" width="8.6" height="8.2" fill="#f7cd94"/><rect x="604.7" y="412.6" width="16.7" height="8.2" fill="#f8e4ae"/><rect x="117.1" y="420.5" width="47.2" height="8.2" fill="#f8e4ae"/><rect x="171.8" y="420.5" width="23.8" height="8.2" fill="#f8e4ae"/><rect x="203.0" y="420.5" width="8.2" height="8.2" fill="#f7f5d2"/><rect x="210.8" y="420.5" width="46.6" height="8.2" fill="#e8735a"/><rect x="257.0" y="420.5" width="8.1" height="8.2" fill="#f2b079"/><rect x="264.8" y="420.5" width="8.1" height="8.2" fill="#2e2b5e"/><rect x="272.5" y="420.5" width="23.5" height="8.2" fill="#f7cd94"/><rect x="295.6" y="420.5" width="8.1" height="8.2" fill="#f2b079"/><rect x="303.3" y="420.5" width="8.1" height="8.2" fill="#f7cd94"/><rect x="426.4" y="420.5" width="8.1" height="8.2" fill="#f8e4ae"/><rect x="464.8" y="420.5" width="8.1" height="8.2" fill="#f8e4ae"/><rect x="511.0" y="420.5" width="16.0" height="8.2" fill="#f8e4ae"/><rect x="534.3" y="420.5" width="8.2" height="8.2" fill="#f8e4ae"/><rect x="542.1" y="420.5" width="23.7" height="8.2" fill="#f7f5d2"/><rect x="565.4" y="420.5" width="16.0" height="8.2" fill="#f8e4ae"/><rect x="596.5" y="420.5" width="8.6" height="8.2" fill="#f7cd94"/><rect x="604.7" y="420.5" width="8.6" height="8.2" fill="#f2b079"/><rect x="612.8" y="420.5" width="8.6" height="8.2" fill="#f8e4ae"/><rect x="187.4" y="428.3" width="16.0" height="8.2" fill="#f7f5d2"/><rect x="210.8" y="428.3" width="15.8" height="8.2" fill="#db5058"/><rect x="226.2" y="428.3" width="8.1" height="8.2" fill="#e8735a"/><rect x="233.9" y="428.3" width="15.8" height="8.2" fill="#f2b079"/><rect x="249.3" y="428.3" width="8.1" height="8.2" fill="#db5058"/><rect x="257.0" y="428.3" width="8.1" height="8.2" fill="#2e2b5e"/><rect x="264.8" y="428.3" width="8.1" height="8.2" fill="#f2b079"/><rect x="272.5" y="428.3" width="8.1" height="8.2" fill="#702786"/><rect x="280.2" y="428.3" width="8.1" height="8.2" fill="#b23a74"/><rect x="287.9" y="428.3" width="8.1" height="8.2" fill="#db5058"/><rect x="295.6" y="428.3" width="8.1" height="8.2" fill="#e8735a"/><rect x="303.3" y="428.3" width="8.1" height="8.2" fill="#f7cd94"/><rect x="426.4" y="428.3" width="8.1" height="8.2" fill="#f8e4ae"/><rect x="464.8" y="428.3" width="8.1" height="8.2" fill="#f8e4ae"/><rect x="511.0" y="428.3" width="16.0" height="8.2" fill="#f7cd94"/><rect x="526.6" y="428.3" width="8.2" height="8.2" fill="#f7f5d2"/><rect x="534.3" y="428.3" width="8.2" height="8.2" fill="#f2b079"/><rect x="542.1" y="428.3" width="8.2" height="8.2" fill="#f8e4ae"/><rect x="549.9" y="428.3" width="8.2" height="8.2" fill="#f7cd94"/><rect x="557.7" y="428.3" width="8.2" height="8.2" fill="#f8e4ae"/><rect x="565.4" y="428.3" width="8.2" height="8.2" fill="#f2b079"/><rect x="573.2" y="428.3" width="8.2" height="8.2" fill="#f7cd94"/><rect x="596.5" y="428.3" width="8.6" height="8.2" fill="#f7cd94"/><rect x="604.7" y="428.3" width="16.7" height="8.2" fill="#f8e4ae"/><rect x="179.6" y="436.1" width="23.8" height="8.2" fill="#f7f5d2"/><rect x="210.8" y="436.1" width="8.1" height="8.2" fill="#db5058"/><rect x="218.5" y="436.1" width="23.5" height="8.2" fill="#e8735a"/><rect x="241.6" y="436.1" width="8.1" height="8.2" fill="#f2b079"/><rect x="249.3" y="436.1" width="8.1" height="8.2" fill="#2e2b5e"/><rect x="257.0" y="436.1" width="8.1" height="8.2" fill="#db5058"/><rect x="264.8" y="436.1" width="38.9" height="8.2" fill="#f2b079"/><rect x="303.3" y="436.1" width="8.1" height="8.2" fill="#e8735a"/><rect x="426.4" y="436.1" width="8.1" height="8.2" fill="#f8e4ae"/><rect x="449.4" y="436.1" width="15.8" height="8.2" fill="#f8e4ae"/><rect x="464.8" y="436.1" width="8.1" height="8.2" fill="#f7cd94"/><rect x="495.6" y="436.1" width="8.1" height="8.2" fill="#f8e4ae"/><rect x="511.0" y="436.1" width="16.0" height="8.2" fill="#f7cd94"/><rect x="526.6" y="436.1" width="8.2" height="8.2" fill="#f7f5d2"/><rect x="534.3" y="436.1" width="8.2" height="8.2" fill="#f7cd94"/><rect x="542.1" y="436.1" width="23.7" height="8.2" fill="#f8e4ae"/><rect x="565.4" y="436.1" width="16.0" height="8.2" fill="#f7cd94"/><rect x="596.5" y="436.1" width="8.6" height="8.2" fill="#f7cd94"/><rect x="604.7" y="436.1" width="16.7" height="8.2" fill="#f8e4ae"/><rect x="148.3" y="443.9" width="16.0" height="8.2" fill="#f8e4ae"/><rect x="171.8" y="443.9" width="23.8" height="8.2" fill="#f7f5d2"/><rect x="210.8" y="443.9" width="23.5" height="8.2" fill="#db5058"/><rect x="233.9" y="443.9" width="8.1" height="8.2" fill="#f2b079"/><rect x="241.6" y="443.9" width="8.1" height="8.2" fill="#2e2b5e"/><rect x="249.3" y="443.9" width="23.5" height="8.2" fill="#f2b079"/><rect x="272.5" y="443.9" width="23.5" height="8.2" fill="#f8e4ae"/><rect x="295.6" y="443.9" width="8.1" height="8.2" fill="#f2b079"/><rect x="303.3" y="443.9" width="8.1" height="8.2" fill="#f7cd94"/><rect x="487.9" y="443.9" width="8.1" height="8.2" fill="#f7f5d2"/><rect x="596.5" y="443.9" width="8.6" height="8.2" fill="#f7cd94"/><rect x="604.7" y="443.9" width="16.7" height="8.2" fill="#f8e4ae"/><rect x="148.3" y="451.8" width="16.0" height="8.2" fill="#f8e4ae"/><rect x="179.6" y="451.8" width="16.0" height="8.2" fill="#f7f5d2"/><rect x="210.8" y="451.8" width="23.5" height="8.2" fill="#db5058"/><rect x="233.9" y="451.8" width="8.1" height="8.2" fill="#2e2b5e"/><rect x="241.6" y="451.8" width="8.1" height="8.2" fill="#f2b079"/><rect x="249.3" y="451.8" width="8.1" height="8.2" fill="#e8735a"/><rect x="257.0" y="451.8" width="15.8" height="8.2" fill="#f2b079"/><rect x="272.5" y="451.8" width="23.5" height="8.2" fill="#f7cd94"/><rect x="295.6" y="451.8" width="8.1" height="8.2" fill="#f2b079"/><rect x="303.3" y="451.8" width="8.1" height="8.2" fill="#f7cd94"/><rect x="511.0" y="451.8" width="16.0" height="8.2" fill="#f7f5d2"/><rect x="534.3" y="451.8" width="8.2" height="8.2" fill="#f7f5d2"/><rect x="565.4" y="451.8" width="16.0" height="8.2" fill="#f8e4ae"/><rect x="596.5" y="451.8" width="8.6" height="8.2" fill="#f2b079"/><rect x="604.7" y="451.8" width="8.6" height="8.2" fill="#f7cd94"/><rect x="612.8" y="451.8" width="8.6" height="8.2" fill="#f8e4ae"/><rect x="187.4" y="459.6" width="23.8" height="8.2" fill="#f7f5d2"/><rect x="210.8" y="459.6" width="23.5" height="8.2" fill="#2e2b5e"/><rect x="233.9" y="459.6" width="15.8" height="8.2" fill="#db5058"/><rect x="249.3" y="459.6" width="15.8" height="8.2" fill="#e8735a"/><rect x="264.8" y="459.6" width="15.8" height="8.2" fill="#f2b079"/><rect x="280.2" y="459.6" width="31.2" height="8.2" fill="#f7cd94"/><rect x="464.8" y="459.6" width="8.1" height="8.2" fill="#f7f5d2"/><rect x="557.7" y="459.6" width="8.2" height="8.2" fill="#f7f5d2"/><rect x="573.2" y="459.6" width="8.2" height="8.2" fill="#f8e4ae"/><rect x="596.5" y="459.6" width="8.6" height="8.2" fill="#f2b079"/><rect x="604.7" y="459.6" width="16.7" height="8.2" fill="#f8e4ae"/><rect x="179.6" y="467.4" width="16.0" height="8.2" fill="#f7f5d2"/><rect x="210.8" y="467.4" width="15.8" height="8.2" fill="#2e2b5e"/><rect x="226.2" y="467.4" width="8.1" height="8.2" fill="#702786"/><rect x="233.9" y="467.4" width="8.1" height="8.2" fill="#db5058"/><rect x="241.6" y="467.4" width="8.1" height="8.2" fill="#b23a74"/><rect x="249.3" y="467.4" width="15.8" height="8.2" fill="#e8735a"/><rect x="264.8" y="467.4" width="31.2" height="8.2" fill="#f2b079"/><rect x="295.6" y="467.4" width="15.8" height="8.2" fill="#f7cd94"/><rect x="426.4" y="467.4" width="8.1" height="8.2" fill="#f8e4ae"/><rect x="487.9" y="467.4" width="8.1" height="8.2" fill="#f7f5d2"/><rect x="511.0" y="467.4" width="16.0" height="8.2" fill="#f8e4ae"/><rect x="534.3" y="467.4" width="47.1" height="8.2" fill="#f8e4ae"/><rect x="596.5" y="467.4" width="8.6" height="8.2" fill="#f2b079"/><rect x="604.7" y="467.4" width="16.7" height="8.2" fill="#f8e4ae"/><rect x="140.5" y="475.3" width="23.8" height="8.2" fill="#f7f5d2"/><rect x="179.6" y="475.3" width="23.8" height="8.2" fill="#f7f5d2"/><rect x="210.8" y="475.3" width="8.1" height="8.2" fill="#2e2b5e"/><rect x="218.5" y="475.3" width="15.8" height="8.2" fill="#702786"/><rect x="233.9" y="475.3" width="23.5" height="8.2" fill="#db5058"/><rect x="257.0" y="475.3" width="8.1" height="8.2" fill="#e8735a"/><rect x="264.8" y="475.3" width="46.6" height="8.2" fill="#f2b079"/><rect x="372.6" y="475.3" width="8.1" height="8.2" fill="#f7f5d2"/><rect x="426.4" y="475.3" width="8.1" height="8.2" fill="#f8e4ae"/><rect x="464.8" y="475.3" width="8.1" height="8.2" fill="#f7f5d2"/><rect x="511.0" y="475.3" width="16.0" height="8.2" fill="#f8e4ae"/><rect x="534.3" y="475.3" width="31.5" height="8.2" fill="#f8e4ae"/><rect x="565.4" y="475.3" width="8.2" height="8.2" fill="#f7cd94"/><rect x="573.2" y="475.3" width="8.2" height="8.2" fill="#f8e4ae"/><rect x="596.5" y="475.3" width="8.6" height="8.2" fill="#f2b079"/><rect x="604.7" y="475.3" width="16.7" height="8.2" fill="#f8e4ae"/><rect x="117.1" y="483.1" width="8.2" height="8.3" fill="#f2b079"/><rect x="124.9" y="483.1" width="8.2" height="8.3" fill="#e8735a"/><rect x="132.7" y="483.1" width="16.0" height="8.3" fill="#f2b079"/><rect x="148.3" y="483.1" width="47.2" height="8.3" fill="#f7cd94"/><rect x="195.2" y="483.1" width="8.2" height="8.3" fill="#702786"/><rect x="203.0" y="483.1" width="8.2" height="8.3" fill="#2e2b5e"/><rect x="226.2" y="483.1" width="8.1" height="8.3" fill="#f7f5d2"/><rect x="264.8" y="483.1" width="8.1" height="8.3" fill="#f7f5d2"/><rect x="303.3" y="483.1" width="8.1" height="8.3" fill="#f8e4ae"/><rect x="372.6" y="483.1" width="8.1" height="8.3" fill="#f7f5d2"/><rect x="426.4" y="483.1" width="8.1" height="8.3" fill="#f8e4ae"/><rect x="449.4" y="483.1" width="15.8" height="8.3" fill="#db5058"/><rect x="464.8" y="483.1" width="8.1" height="8.3" fill="#e8735a"/><rect x="472.5" y="483.1" width="23.5" height="8.3" fill="#f2b079"/><rect x="495.6" y="483.1" width="8.1" height="8.3" fill="#f7cd94"/><rect x="503.3" y="483.1" width="8.1" height="8.3" fill="#f2b079"/><rect x="596.5" y="483.1" width="8.6" height="8.3" fill="#f7f5d2"/><rect x="117.1" y="491.0" width="23.8" height="8.3" fill="#f2b079"/><rect x="140.5" y="491.0" width="55.1" height="8.3" fill="#f7cd94"/><rect x="195.2" y="491.0" width="8.2" height="8.3" fill="#2e2b5e"/><rect x="203.0" y="491.0" width="8.2" height="8.3" fill="#702786"/><rect x="210.8" y="491.0" width="8.1" height="8.3" fill="#f7f5d2"/><rect x="226.2" y="491.0" width="8.1" height="8.3" fill="#f7f5d2"/><rect x="249.3" y="491.0" width="15.8" height="8.3" fill="#f7f5d2"/><rect x="303.3" y="491.0" width="8.1" height="8.3" fill="#f8e4ae"/><rect x="372.6" y="491.0" width="15.8" height="8.3" fill="#f7f5d2"/><rect x="426.4" y="491.0" width="8.1" height="8.3" fill="#f8e4ae"/><rect x="449.4" y="491.0" width="15.8" height="8.3" fill="#db5058"/><rect x="464.8" y="491.0" width="8.1" height="8.3" fill="#e8735a"/><rect x="472.5" y="491.0" width="15.8" height="8.3" fill="#f2b079"/><rect x="487.9" y="491.0" width="8.1" height="8.3" fill="#e8735a"/><rect x="495.6" y="491.0" width="8.1" height="8.3" fill="#f7cd94"/><rect x="503.3" y="491.0" width="8.1" height="8.3" fill="#f2b079"/><rect x="117.1" y="498.9" width="8.2" height="8.3" fill="#f2b079"/><rect x="124.9" y="498.9" width="47.2" height="8.3" fill="#db5058"/><rect x="171.8" y="498.9" width="8.2" height="8.3" fill="#e8735a"/><rect x="179.6" y="498.9" width="8.2" height="8.3" fill="#f2b079"/><rect x="187.4" y="498.9" width="8.2" height="8.3" fill="#2e2b5e"/><rect x="195.2" y="498.9" width="16.0" height="8.3" fill="#f7cd94"/><rect x="210.8" y="498.9" width="54.4" height="8.3" fill="#f7f5d2"/><rect x="264.8" y="498.9" width="8.1" height="8.3" fill="#f8e4ae"/><rect x="272.5" y="498.9" width="15.8" height="8.3" fill="#f7f5d2"/><rect x="287.9" y="498.9" width="8.1" height="8.3" fill="#f8e4ae"/><rect x="303.3" y="498.9" width="8.1" height="8.3" fill="#f8e4ae"/><rect x="372.6" y="498.9" width="8.1" height="8.3" fill="#f7f5d2"/><rect x="449.4" y="498.9" width="23.5" height="8.3" fill="#f7f5d2"/><rect x="487.9" y="498.9" width="8.1" height="8.3" fill="#f2b079"/><rect x="511.0" y="498.9" width="16.0" height="8.3" fill="#f7f5d2"/><rect x="534.3" y="498.9" width="23.7" height="8.3" fill="#f7f5d2"/><rect x="565.4" y="498.9" width="16.0" height="8.3" fill="#f7f5d2"/><rect x="596.5" y="498.9" width="16.7" height="8.3" fill="#f7f5d2"/><rect x="117.1" y="506.8" width="8.2" height="8.3" fill="#f2b079"/><rect x="124.9" y="506.8" width="39.4" height="8.3" fill="#db5058"/><rect x="163.9" y="506.8" width="8.2" height="8.3" fill="#b23a74"/><rect x="171.8" y="506.8" width="8.2" height="8.3" fill="#f7cd94"/><rect x="179.6" y="506.8" width="8.2" height="8.3" fill="#2e2b5e"/><rect x="187.4" y="506.8" width="8.2" height="8.3" fill="#f2b079"/><rect x="195.2" y="506.8" width="16.0" height="8.3" fill="#f7cd94"/><rect x="210.8" y="506.8" width="15.8" height="8.3" fill="#f7f5d2"/><rect x="233.9" y="506.8" width="23.5" height="8.3" fill="#f7f5d2"/><rect x="264.8" y="506.8" width="8.1" height="8.3" fill="#f8e4ae"/><rect x="272.5" y="506.8" width="15.8" height="8.3" fill="#f7f5d2"/><rect x="303.3" y="506.8" width="8.1" height="8.3" fill="#f8e4ae"/><rect x="464.8" y="506.8" width="8.1" height="8.3" fill="#f7f5d2"/><rect x="588.8" y="506.8" width="32.6" height="8.3" fill="#f7f5d2"/><rect x="117.1" y="514.7" width="8.2" height="8.3" fill="#f2b079"/><rect x="124.9" y="514.7" width="23.8" height="8.3" fill="#b23a74"/><rect x="148.3" y="514.7" width="16.0" height="8.3" fill="#db5058"/><rect x="163.9" y="514.7" width="8.2" height="8.3" fill="#b23a74"/><rect x="171.8" y="514.7" width="8.2" height="8.3" fill="#2e2b5e"/><rect x="179.6" y="514.7" width="8.2" height="8.3" fill="#f7cd94"/><rect x="187.4" y="514.7" width="8.2" height="8.3" fill="#e8735a"/><rect x="195.2" y="514.7" width="16.0" height="8.3" fill="#f7cd94"/><rect x="241.6" y="514.7" width="8.1" height="8.3" fill="#f7f5d2"/><rect x="264.8" y="514.7" width="8.1" height="8.3" fill="#f8e4ae"/><rect x="272.5" y="514.7" width="8.1" height="8.3" fill="#f7f5d2"/><rect x="487.9" y="514.7" width="8.1" height="8.3" fill="#f7cd94"/><rect x="588.8" y="514.7" width="16.3" height="8.3" fill="#f7f5d2"/><rect x="117.1" y="522.6" width="8.2" height="8.3" fill="#f2b079"/><rect x="124.9" y="522.6" width="16.0" height="8.3" fill="#702786"/><rect x="140.5" y="522.6" width="16.0" height="8.3" fill="#b23a74"/><rect x="156.1" y="522.6" width="8.2" height="8.3" fill="#db5058"/><rect x="163.9" y="522.6" width="8.2" height="8.3" fill="#2e2b5e"/><rect x="171.8" y="522.6" width="16.0" height="8.3" fill="#db5058"/><rect x="187.4" y="522.6" width="8.2" height="8.3" fill="#e8735a"/><rect x="195.2" y="522.6" width="16.0" height="8.3" fill="#f7cd94"/><rect x="311.0" y="522.6" width="8.1" height="8.3" fill="#f7f5d2"/><rect x="318.7" y="522.6" width="8.1" height="8.3" fill="#f8e4ae"/><rect x="334.1" y="522.6" width="8.1" height="8.3" fill="#f7f5d2"/><rect x="449.4" y="522.6" width="15.8" height="8.3" fill="#f7f5d2"/><rect x="487.9" y="522.6" width="8.1" height="8.3" fill="#f7cd94"/><rect x="511.0" y="522.6" width="8.2" height="8.3" fill="#f7f5d2"/><rect x="588.8" y="522.6" width="16.3" height="8.3" fill="#f7f5d2"/><rect x="117.1" y="530.5" width="8.2" height="8.3" fill="#f2b079"/><rect x="124.9" y="530.5" width="8.2" height="8.3" fill="#702786"/><rect x="132.7" y="530.5" width="8.2" height="8.3" fill="#db5058"/><rect x="140.5" y="530.5" width="16.0" height="8.3" fill="#b23a74"/><rect x="156.1" y="530.5" width="8.2" height="8.3" fill="#2e2b5e"/><rect x="163.9" y="530.5" width="31.6" height="8.3" fill="#e8735a"/><rect x="195.2" y="530.5" width="16.0" height="8.3" fill="#f7cd94"/><rect x="210.8" y="530.5" width="8.1" height="8.3" fill="#f7f5d2"/><rect x="233.9" y="530.5" width="15.8" height="8.3" fill="#f8e4ae"/><rect x="264.8" y="530.5" width="8.1" height="8.3" fill="#f8e4ae"/><rect x="272.5" y="530.5" width="8.1" height="8.3" fill="#f7f5d2"/><rect x="303.3" y="530.5" width="8.1" height="8.3" fill="#f8e4ae"/><rect x="334.1" y="530.5" width="8.1" height="8.3" fill="#f7f5d2"/><rect x="487.9" y="530.5" width="8.1" height="8.3" fill="#f7cd94"/><rect x="557.7" y="530.5" width="8.2" height="8.3" fill="#f7f5d2"/><rect x="588.8" y="530.5" width="16.3" height="8.3" fill="#f7f5d2"/><rect x="117.1" y="538.4" width="8.2" height="8.3" fill="#f2b079"/><rect x="124.9" y="538.4" width="8.2" height="8.3" fill="#702786"/><rect x="132.7" y="538.4" width="8.2" height="8.3" fill="#db5058"/><rect x="140.5" y="538.4" width="8.2" height="8.3" fill="#b23a74"/><rect x="148.3" y="538.4" width="8.2" height="8.3" fill="#2e2b5e"/><rect x="156.1" y="538.4" width="8.2" height="8.3" fill="#b23a74"/><rect x="163.9" y="538.4" width="31.6" height="8.3" fill="#e8735a"/><rect x="195.2" y="538.4" width="16.0" height="8.3" fill="#f7cd94"/><rect x="210.8" y="538.4" width="8.1" height="8.3" fill="#f7f5d2"/><rect x="233.9" y="538.4" width="15.8" height="8.3" fill="#f8e4ae"/><rect x="264.8" y="538.4" width="8.1" height="8.3" fill="#f8e4ae"/><rect x="295.6" y="538.4" width="8.1" height="8.3" fill="#f7f5d2"/><rect x="457.1" y="538.4" width="15.8" height="8.3" fill="#f7f5d2"/><rect x="487.9" y="538.4" width="8.1" height="8.3" fill="#f7cd94"/><rect x="117.1" y="546.3" width="8.2" height="8.3" fill="#e8735a"/><rect x="124.9" y="546.3" width="8.2" height="8.3" fill="#2e2b5e"/><rect x="132.7" y="546.3" width="8.2" height="8.3" fill="#702786"/><rect x="140.5" y="546.3" width="8.2" height="8.3" fill="#2e2b5e"/><rect x="148.3" y="546.3" width="8.2" height="8.3" fill="#702786"/><rect x="156.1" y="546.3" width="8.2" height="8.3" fill="#b23a74"/><rect x="163.9" y="546.3" width="16.0" height="8.3" fill="#db5058"/><rect x="179.6" y="546.3" width="16.0" height="8.3" fill="#e8735a"/><rect x="195.2" y="546.3" width="16.0" height="8.3" fill="#f2b079"/><rect x="210.8" y="546.3" width="8.1" height="8.3" fill="#f7f5d2"/><rect x="264.8" y="546.3" width="8.1" height="8.3" fill="#f8e4ae"/><rect x="295.6" y="546.3" width="15.8" height="8.3" fill="#f7f5d2"/><rect x="487.9" y="546.3" width="8.1" height="8.3" fill="#f7cd94"/><rect x="117.1" y="554.2" width="8.2" height="8.3" fill="#e8735a"/><rect x="124.9" y="554.2" width="16.0" height="8.3" fill="#2e2b5e"/><rect x="140.5" y="554.2" width="8.2" height="8.3" fill="#e8735a"/><rect x="148.3" y="554.2" width="23.8" height="8.3" fill="#b23a74"/><rect x="171.8" y="554.2" width="8.2" height="8.3" fill="#db5058"/><rect x="179.6" y="554.2" width="16.0" height="8.3" fill="#e8735a"/><rect x="195.2" y="554.2" width="16.0" height="8.3" fill="#f2b079"/><rect x="264.8" y="554.2" width="8.1" height="8.3" fill="#f8e4ae"/><rect x="287.9" y="554.2" width="23.5" height="8.3" fill="#f7f5d2"/><rect x="449.4" y="554.2" width="8.1" height="8.3" fill="#f8e4ae"/><rect x="457.1" y="554.2" width="8.1" height="8.3" fill="#f7f5d2"/><rect x="487.9" y="554.2" width="8.1" height="8.3" fill="#f7cd94"/><rect x="596.5" y="554.2" width="8.6" height="8.3" fill="#f7f5d2"/><rect x="117.1" y="562.1" width="8.2" height="8.3" fill="#e8735a"/><rect x="124.9" y="562.1" width="16.0" height="8.3" fill="#2e2b5e"/><rect x="140.5" y="562.1" width="16.0" height="8.3" fill="#702786"/><rect x="156.1" y="562.1" width="16.0" height="8.3" fill="#b23a74"/><rect x="171.8" y="562.1" width="8.2" height="8.3" fill="#db5058"/><rect x="179.6" y="562.1" width="16.0" height="8.3" fill="#e8735a"/><rect x="195.2" y="562.1" width="16.0" height="8.3" fill="#f2b079"/><rect x="264.8" y="562.1" width="8.1" height="8.3" fill="#f8e4ae"/><rect x="287.9" y="562.1" width="23.5" height="8.3" fill="#f7f5d2"/><rect x="487.9" y="562.1" width="8.1" height="8.3" fill="#f7cd94"/><rect x="588.8" y="562.1" width="16.3" height="8.3" fill="#f7f5d2"/><rect x="117.1" y="570.0" width="8.2" height="8.3" fill="#2e2b5e"/><rect x="124.9" y="570.0" width="23.8" height="8.3" fill="#e8735a"/><rect x="148.3" y="570.0" width="62.9" height="8.3" fill="#f2b079"/><rect x="264.8" y="570.0" width="8.1" height="8.3" fill="#f8e4ae"/><rect x="280.2" y="570.0" width="8.1" height="8.3" fill="#f7f5d2"/><rect x="303.3" y="570.0" width="8.1" height="8.3" fill="#f7f5d2"/><rect x="380.3" y="570.0" width="8.1" height="8.3" fill="#f7f5d2"/><rect x="395.7" y="570.0" width="38.8" height="8.3" fill="#f7f5d2"/><rect x="441.7" y="570.0" width="8.1" height="8.3" fill="#f7f5d2"/><rect x="449.4" y="570.0" width="8.1" height="8.3" fill="#f7cd94"/><rect x="457.1" y="570.0" width="8.1" height="8.3" fill="#f2b079"/><rect x="464.8" y="570.0" width="38.9" height="8.3" fill="#f7cd94"/><rect x="503.3" y="570.0" width="8.1" height="8.3" fill="#f8e4ae"/></g>
<rect x="117.1" y="483.5" width="94.1" height="94.4" fill="none" stroke="#000" stroke-width="3.8"/>
<rect x="210.5" y="382.6" width="100.2" height="100.1" fill="none" stroke="#000" stroke-width="3.8"/>
<rect x="311.2" y="302.8" width="76.8" height="77.2" fill="none" stroke="#000" stroke-width="3.8"/>
<rect x="388.5" y="240.9" width="61.4" height="61.4" fill="none" stroke="#000" stroke-width="3.8"/>
<rect x="448.9" y="177.7" width="61.7" height="61.3" fill="none" stroke="#000" stroke-width="3.8"/>
<rect x="511.2" y="105.8" width="69.8" height="70.9" fill="none" stroke="#000" stroke-width="3.8"/>
<rect x="581" y="89.5" width="15.8" height="16.3" fill="none" stroke="#000" stroke-width="3.8"/>
<rect x="596.3" y="64.5" width="24.2" height="24.8" fill="none" stroke="#000" stroke-width="3.8"/>
<rect x="117.1" y="64.6" width="503.9" height="513.3" fill="none" stroke="#000" stroke-width="4.3"/>
<text x="410.98" y="82.3" font-size="21.0" stroke="#000">mp8 (Epi-Immune)</text>
<text x="441.23" y="100.3" font-size="21.0" stroke="#000">mp7 (RP high)</text>
<text x="375.72" y="147.8" font-size="21.0" stroke="#000">mp6 (Epi-Krt)</text>
<text x="299.58" y="211.3" font-size="21.0" stroke="#000">mp5 (MT high)</text>
<text x="456.83" y="280.7" font-size="21.0" stroke="#000">mp4 (DNA replication)</text>
<text x="395.83" y="351.7" font-size="21.0" stroke="#000">mp3 (Mitosis)</text>
<text x="318.23" y="438.6" font-size="21.0" stroke="#000">mp2 (Epi-Sen)</text>
<text x="219.83" y="545.1" font-size="21.0" stroke="#000">mp1 (Stress)</text>
<defs><linearGradient id="magma" x1="0" y1="1" x2="0" y2="0">
<stop offset="0" stop-color="#f7efb8"/><stop offset="0.1" stop-color="#f5d490"/>
<stop offset="0.2" stop-color="#f4b070"/><stop offset="0.3" stop-color="#ee8060"/>
<stop offset="0.4" stop-color="#e65a52"/><stop offset="0.5" stop-color="#d04460"/>
<stop offset="0.6" stop-color="#b03070"/><stop offset="0.7" stop-color="#86267c"/>
<stop offset="0.8" stop-color="#5a2080"/><stop offset="0.9" stop-color="#3f2270"/>
<stop offset="1" stop-color="#2e2a5e"/></linearGradient>
<linearGradient id="reds" x1="0" y1="1" x2="0" y2="0">
<stop offset="0" stop-color="#fff5f0"/><stop offset="0.125" stop-color="#fee0d2"/>
<stop offset="0.25" stop-color="#fcbba1"/><stop offset="0.375" stop-color="#fc9272"/>
<stop offset="0.5" stop-color="#fb6a4a"/><stop offset="0.625" stop-color="#ef3b2c"/>
<stop offset="0.75" stop-color="#cb181d"/><stop offset="0.875" stop-color="#a50f15"/>
<stop offset="1" stop-color="#67000d"/></linearGradient></defs>
<text x="638.93" y="363.7" font-size="23.5" stroke="#000">Similarity</text>
<text x="638.69" y="393.1" font-size="23.5" stroke="#000">(Jaccard</text>
<text x="638.46" y="423.6" font-size="23.5" stroke="#000">index)</text>
<rect x="653.8" y="447" width="19.6" height="126" fill="url(#magma)"/>
<line x1="653.8" y1="472.7" x2="657.8" y2="472.7" stroke="#fff" stroke-width="1.5"/>
<line x1="669.4" y1="472.7" x2="673.4" y2="472.7" stroke="#fff" stroke-width="1.5"/>
<line x1="653.8" y1="498" x2="657.8" y2="498" stroke="#fff" stroke-width="1.5"/>
<line x1="669.4" y1="498" x2="673.4" y2="498" stroke="#fff" stroke-width="1.5"/>
<line x1="653.8" y1="524" x2="657.8" y2="524" stroke="#fff" stroke-width="1.5"/>
<line x1="669.4" y1="524" x2="673.4" y2="524" stroke="#fff" stroke-width="1.5"/>
<line x1="653.8" y1="549.6" x2="657.8" y2="549.6" stroke="#fff" stroke-width="1.5"/>
<line x1="669.4" y1="549.6" x2="673.4" y2="549.6" stroke="#fff" stroke-width="1.5"/>
<text x="679.64" y="457.8" font-size="23.5" stroke="#000">50</text>
<text x="679.88" y="483.1" font-size="23.5" stroke="#000">40</text>
<text x="679.64" y="508.2" font-size="23.5" stroke="#000">30</text>
<text x="679.52" y="533.7" font-size="23.5" stroke="#000">20</text>
<text x="679.17" y="559.7" font-size="23.5" stroke="#000">10</text>
<text x="686.22" y="583.1" font-size="23.5" stroke="#000">0</text>
<text transform="translate(753.74,31.7) scale(1.126,1)" font-size="35" font-weight="bold" stroke="#000">b</text>
<rect x="937.8" y="55.9" width="416.3" height="467.3" fill="#fdf1ed"/>
<g shape-rendering="crispEdges">
<rect x="937.8" y="55.9" width="59.8" height="58.7" fill="#a91d22"/>
<rect x="997.3" y="55.9" width="59.8" height="58.7" fill="#fce9e1"/>
<rect x="937.8" y="114.3" width="59.8" height="58.7" fill="#fdede8"/>
<rect x="997.3" y="114.3" width="59.8" height="58.7" fill="#861a1e"/>
<rect x="1235.2" y="114.3" width="59.8" height="58.7" fill="#fdebe6"/>
<rect x="1056.7" y="231.1" width="59.8" height="58.7" fill="#841a1e"/>
<rect x="1116.2" y="231.1" width="59.8" height="58.7" fill="#fce9e1"/>
<rect x="1056.7" y="289.6" width="59.8" height="58.7" fill="#fce9e2"/>
<rect x="1116.2" y="289.6" width="59.8" height="58.7" fill="#640f12"/>
<rect x="1175.7" y="348.0" width="59.8" height="58.7" fill="#ba1d22"/>
<rect x="1294.6" y="348.0" width="59.8" height="58.7" fill="#fbe2d8"/>
<rect x="1235.2" y="406.4" width="59.8" height="58.7" fill="#ea7a60"/>
<rect x="1294.6" y="406.4" width="59.8" height="58.7" fill="#fbe2d8"/>
<rect x="1175.7" y="464.8" width="59.8" height="58.7" fill="#fbe2d8"/>
<rect x="1235.2" y="464.8" width="59.8" height="58.7" fill="#fbe6de"/>
<rect x="1294.6" y="464.8" width="59.8" height="58.7" fill="#851a1f"/>
</g>
<line x1="928.6" y1="85.1" x2="937" y2="85.1" stroke="#000" stroke-width="3.3"/>
<text x="864.75" y="94.4" font-size="24.8" stroke="#000">MP1</text>
<line x1="928.6" y1="143.5" x2="937" y2="143.5" stroke="#000" stroke-width="3.3"/>
<text x="864.75" y="152.8" font-size="24.8" stroke="#000">MP2</text>
<line x1="928.6" y1="201.9" x2="937" y2="201.9" stroke="#000" stroke-width="3.3"/>
<text x="864.75" y="211.2" font-size="24.8" stroke="#000">MP3</text>
<line x1="928.6" y1="260.3" x2="937" y2="260.3" stroke="#000" stroke-width="3.3"/>
<text x="864.26" y="269.6" font-size="24.8" stroke="#000">MP4</text>
<line x1="928.6" y1="318.8" x2="937" y2="318.8" stroke="#000" stroke-width="3.3"/>
<text x="864.5" y="328.1" font-size="24.8" stroke="#000">MP5</text>
<line x1="928.6" y1="377.2" x2="937" y2="377.2" stroke="#000" stroke-width="3.3"/>
<text x="864.75" y="386.5" font-size="24.8" stroke="#000">MP6</text>
<line x1="928.6" y1="435.6" x2="937" y2="435.6" stroke="#000" stroke-width="3.3"/>
<text x="864.75" y="444.9" font-size="24.8" stroke="#000">MP7</text>
<line x1="928.6" y1="494.0" x2="937" y2="494.0" stroke="#000" stroke-width="3.3"/>
<text x="864.75" y="503.3" font-size="24.8" stroke="#000">MP8</text>
<line x1="967.5" y1="523.2" x2="967.5" y2="531.4" stroke="#000" stroke-width="3.6"/>
<text x="934.38" y="563.1" font-size="24.8" stroke="#000">mp5</text>
<line x1="1027.0" y1="523.2" x2="1027.0" y2="531.4" stroke="#000" stroke-width="3.6"/>
<text x="993.98" y="563.1" font-size="24.8" stroke="#000">mp1</text>
<line x1="1086.5" y1="523.2" x2="1086.5" y2="531.4" stroke="#000" stroke-width="3.6"/>
<text x="1053.2" y="563.1" font-size="24.8" stroke="#000">mp4</text>
<line x1="1145.9" y1="523.2" x2="1145.9" y2="531.4" stroke="#000" stroke-width="3.6"/>
<text x="1112.92" y="563.1" font-size="24.8" stroke="#000">mp3</text>
<line x1="1205.4" y1="523.2" x2="1205.4" y2="531.4" stroke="#000" stroke-width="3.6"/>
<text x="1172.39" y="563.1" font-size="24.8" stroke="#000">mp6</text>
<line x1="1264.9" y1="523.2" x2="1264.9" y2="531.4" stroke="#000" stroke-width="3.6"/>
<text x="1231.86" y="563.1" font-size="24.8" stroke="#000">mp8</text>
<line x1="1324.4" y1="523.2" x2="1324.4" y2="531.4" stroke="#000" stroke-width="3.6"/>
<text x="1291.34" y="563.1" font-size="24.8" stroke="#000">mp2</text>
<text x="982.94" y="609.8" font-size="25.1" stroke="#000">Clustering (Gavish A et al. 2023)</text>
<text transform="translate(823.6,469.93) rotate(-90)" font-size="24.9" fill="#000" stroke="#000">Hierarchical clustering (UPGMA)</text>
<text x="1370.32" y="329" font-size="23.5" stroke="#000">Similarity</text>
<text x="1370.09" y="358.4" font-size="23.5" stroke="#000">(Jaccard</text>
<text x="1369.86" y="388.6" font-size="23.5" stroke="#000">index)</text>
<rect x="1380.8" y="414.8" width="27.5" height="108.5" fill="url(#reds)"/>
<text x="1418.16" y="425.7" font-size="23.5" stroke="#000">30</text>
<text x="1418.16" y="531.3" font-size="23.5" stroke="#000">0</text>
<text transform="translate(0.47,641.0) scale(1.081,1)" font-size="35.5" font-weight="bold" stroke="#000">c</text>
<text transform="translate(88,1029.84) rotate(-90)" font-size="24.9" fill="#000" stroke="#000">Jaccard similarity</text>
<text x="548.5" y="1224.0" font-size="25.0" stroke="#000">Pearson’s R</text>
<rect x="155.8" y="709.3" width="203.8" height="207.6" fill="none" stroke="#000" stroke-width="2.8"/>
<line x1="148.8" y1="709.6" x2="155.8" y2="709.6" stroke="#000" stroke-width="2.8"/>
<line x1="148.8" y1="801.6" x2="155.8" y2="801.6" stroke="#000" stroke-width="2.8"/>
<line x1="148.8" y1="893.3" x2="155.8" y2="893.3" stroke="#000" stroke-width="2.8"/>
<line x1="155.8" y1="916.9" x2="155.8" y2="924.4" stroke="#000" stroke-width="2.9"/>
<line x1="257.7" y1="916.9" x2="257.7" y2="924.4" stroke="#000" stroke-width="2.9"/>
<line x1="359.6" y1="916.9" x2="359.6" y2="924.4" stroke="#000" stroke-width="2.9"/>
<text x="140.0" y="718.6" font-size="24.8" text-anchor="end" stroke="#000">0.4</text>
<text x="140.0" y="810.6" font-size="24.8" text-anchor="end" stroke="#000">0.2</text>
<text x="140.0" y="902.3" font-size="24.8" text-anchor="end" stroke="#000">0.0</text>
<text x="237.78" y="696.9" font-size="24.8" stroke="#000">MP2</text>
<circle cx="269.8" cy="884" r="6.3" fill="#f07d28" stroke="#fff" stroke-width="1"/>
<circle cx="257.5" cy="893.3" r="6.3" fill="#289b64" stroke="#fff" stroke-width="1"/>
<circle cx="289" cy="893.3" r="6.3" fill="#289b64" stroke="#fff" stroke-width="1"/>
<circle cx="240.5" cy="893.3" r="6.3" fill="#d2282d" stroke="#fff" stroke-width="1"/>
<circle cx="349.4" cy="754.3" r="6.3" fill="#7350a5" stroke="#fff" stroke-width="1"/>
<circle cx="247.1" cy="893.3" r="6.3" fill="#1eb9cd" stroke="#fff" stroke-width="1"/>
<circle cx="284.1" cy="885.9" r="6.3" fill="#aac3e6" stroke="#fff" stroke-width="1"/>
<circle cx="265.8" cy="893.3" r="6.3" fill="#fab978" stroke="#fff" stroke-width="1"/>
<circle cx="345.8" cy="740" r="6.3" fill="#96d282" stroke="#fff" stroke-width="1"/>
<circle cx="282.1" cy="893.3" r="6.3" fill="#f08c8c" stroke="#fff" stroke-width="1"/>
<text x="188.14" y="744.3" font-size="20.8" fill="#8bc577" stroke="#8bc577">HNSCC_stress</text>
<text x="174.75" y="767.6" font-size="20.8" fill="#6c5094" stroke="#6c5094">pancancer_stress</text>
<rect x="399.6" y="709.6" width="202.8" height="207.7" fill="none" stroke="#000" stroke-width="2.8"/>
<line x1="392.6" y1="709.6" x2="399.6" y2="709.6" stroke="#000" stroke-width="2.8"/>
<line x1="392.6" y1="801.7" x2="399.6" y2="801.7" stroke="#000" stroke-width="2.8"/>
<line x1="392.6" y1="893.8" x2="399.6" y2="893.8" stroke="#000" stroke-width="2.8"/>
<line x1="399.6" y1="917.3" x2="399.6" y2="924.8" stroke="#000" stroke-width="2.9"/>
<line x1="501.0" y1="917.3" x2="501.0" y2="924.8" stroke="#000" stroke-width="2.9"/>
<line x1="602.4" y1="917.3" x2="602.4" y2="924.8" stroke="#000" stroke-width="2.9"/>
<text x="481.08" y="696.9" font-size="24.8" stroke="#000">MP3</text>
<circle cx="582.4" cy="832.0" r="6.3" fill="#236db4" stroke="#fff" stroke-width="1"/>
<circle cx="542.2" cy="885.9" r="6.3" fill="#d2282d" stroke="#fff" stroke-width="1"/>
<circle cx="521.5" cy="893.8" r="6.3" fill="#aaaf50" stroke="#fff" stroke-width="1"/>
<circle cx="581.4" cy="842.8" r="6.3" fill="#1eb9cd" stroke="#fff" stroke-width="1"/>
<circle cx="451.5" cy="893.8" r="6.3" fill="#aac3e6" stroke="#fff" stroke-width="1"/>
<circle cx="472.5" cy="893.8" r="6.3" fill="#fab978" stroke="#fff" stroke-width="1"/>
<circle cx="505.4" cy="893.8" r="6.3" fill="#96d282" stroke="#fff" stroke-width="1"/>
<circle cx="492.3" cy="893.8" r="6.3" fill="#f08c8c" stroke="#fff" stroke-width="1"/>
<text x="425.75" y="828.1" font-size="20.8" fill="#2b659d" stroke="#2b659d">pancancer_emt</text>
<text x="430.84" y="854.6" font-size="20.8" fill="#28a3b2" stroke="#28a3b2">HNSCC_EMT</text>
<rect x="643.1" y="709.6" width="203.2" height="207.3" fill="none" stroke="#000" stroke-width="2.8"/>
<line x1="636.1" y1="709.6" x2="643.1" y2="709.6" stroke="#000" stroke-width="2.8"/>
<line x1="636.1" y1="801.7" x2="643.1" y2="801.7" stroke="#000" stroke-width="2.8"/>
<line x1="636.1" y1="893.8" x2="643.1" y2="893.8" stroke="#000" stroke-width="2.8"/>
<line x1="643.1" y1="916.9" x2="643.1" y2="924.4" stroke="#000" stroke-width="2.9"/>
<line x1="744.7" y1="916.9" x2="744.7" y2="924.4" stroke="#000" stroke-width="2.9"/>
<line x1="846.3" y1="916.9" x2="846.3" y2="924.4" stroke="#000" stroke-width="2.9"/>
<text x="724.54" y="696.9" font-size="24.8" stroke="#000">MP4</text>
<circle cx="725.5" cy="893.8" r="6.3" fill="#f07d28" stroke="#fff" stroke-width="1"/>
<circle cx="838.5" cy="779.1" r="6.3" fill="#8c564b" stroke="#fff" stroke-width="1"/>
<circle cx="802.2" cy="869.3" r="6.3" fill="#dc78be" stroke="#fff" stroke-width="1"/>
<circle cx="830.6" cy="779.1" r="6.3" fill="#aaaf50" stroke="#fff" stroke-width="1"/>
<circle cx="716" cy="893.8" r="6.3" fill="#aac3e6" stroke="#fff" stroke-width="1"/>
<circle cx="747.3" cy="893.8" r="6.3" fill="#fab978" stroke="#fff" stroke-width="1"/>
<circle cx="740.5" cy="893.8" r="6.3" fill="#96d282" stroke="#fff" stroke-width="1"/>
<circle cx="734.6" cy="893.8" r="6.3" fill="#f08c8c" stroke="#fff" stroke-width="1"/>
<text x="684.35" y="763.5" font-size="20.8" fill="#7e534a" stroke="#7e534a">pancancer_g1s</text>
<text x="653.24" y="798.7" font-size="20.8" fill="#989c51" stroke="#989c51">HNSCC_Cell_cycle</text>
<text x="647.75" y="868.3" font-size="20.8" fill="#cf6eb1" stroke="#cf6eb1">pancancer_g2m</text>
<rect x="887.9" y="707.7" width="201.8" height="207.1" fill="none" stroke="#000" stroke-width="2.8"/>
<line x1="880.9" y1="707.7" x2="887.9" y2="707.7" stroke="#000" stroke-width="2.8"/>
<line x1="880.9" y1="800.3" x2="887.9" y2="800.3" stroke="#000" stroke-width="2.8"/>
<line x1="880.9" y1="891.7" x2="887.9" y2="891.7" stroke="#000" stroke-width="2.8"/>
<line x1="887.9" y1="914.8" x2="887.9" y2="922.3" stroke="#000" stroke-width="2.9"/>
<line x1="988.8" y1="914.8" x2="988.8" y2="922.3" stroke="#000" stroke-width="2.9"/>
<line x1="1089.7" y1="914.8" x2="1089.7" y2="922.3" stroke="#000" stroke-width="2.9"/>
<text x="865.26" y="945.8" font-size="24.8" stroke="#000">−1</text>
<text x="981.86" y="945.8" font-size="24.8" stroke="#000">0</text>
<text x="1081.38" y="945.8" font-size="24.8" stroke="#000">1</text>
<text x="968.76" y="694.7" font-size="24.8" stroke="#000">MP5</text>
<circle cx="1036" cy="884.4" r="6.3" fill="#8c564b" stroke="#fff" stroke-width="1"/>
<circle cx="1082.8" cy="724.4" r="6.3" fill="#dc78be" stroke="#fff" stroke-width="1"/>
<circle cx="1055.4" cy="820.8" r="6.3" fill="#aaaf50" stroke="#fff" stroke-width="1"/>
<circle cx="995.8" cy="891.7" r="6.3" fill="#1eb9cd" stroke="#fff" stroke-width="1"/>
<circle cx="962.8" cy="891.7" r="6.3" fill="#aac3e6" stroke="#fff" stroke-width="1"/>
<circle cx="973.6" cy="891.7" r="6.3" fill="#f08c8c" stroke="#fff" stroke-width="1"/>
<text x="923.85" y="732.8" font-size="20.8" fill="#cf6eb1" stroke="#cf6eb1">pancancer_g2m</text>
<text x="894.94" y="806.7" font-size="20.8" fill="#989c51" stroke="#989c51">HNSCC_Cell_cycle</text>
<text x="902.85" y="868.8" font-size="20.8" fill="#7e534a" stroke="#7e534a">pancancer_g1s</text>
<rect x="154.2" y="961.3" width="206.6" height="199.8" fill="none" stroke="#000" stroke-width="2.8"/>
<line x1="147.2" y1="978.9" x2="154.2" y2="978.9" stroke="#000" stroke-width="2.8"/>
<line x1="147.2" y1="1065.8" x2="154.2" y2="1065.8" stroke="#000" stroke-width="2.8"/>
<line x1="147.2" y1="1152.3" x2="154.2" y2="1152.3" stroke="#000" stroke-width="2.8"/>
<line x1="149.2" y1="1021.5" x2="154.2" y2="1021.5" stroke="#bbb" stroke-width="1"/>
<line x1="149.2" y1="1108.7" x2="154.2" y2="1108.7" stroke="#bbb" stroke-width="1"/>
<line x1="154.2" y1="1161.1" x2="154.2" y2="1168.6" stroke="#000" stroke-width="2.9"/>
<line x1="257.5" y1="1161.1" x2="257.5" y2="1168.6" stroke="#000" stroke-width="2.9"/>
<line x1="360.8" y1="1161.1" x2="360.8" y2="1168.6" stroke="#000" stroke-width="2.9"/>
<text x="142.3" y="983.2" font-size="24.8" text-anchor="end" stroke="#000">0.2</text>
<text x="142.3" y="1070.1" font-size="24.8" text-anchor="end" stroke="#000">0.1</text>
<text x="142.3" y="1156.6" font-size="24.8" text-anchor="end" stroke="#000">0.0</text>
<text x="134.96" y="1190.6" font-size="24.8" stroke="#000">−1</text>
<text x="250.56" y="1190.6" font-size="24.8" stroke="#000">0</text>
<text x="352.48" y="1190.6" font-size="24.8" stroke="#000">1</text>
<text x="237.58" y="955.3" font-size="24.8" stroke="#000">MP6</text>
<circle cx="211.6" cy="1151.5" r="6.3" fill="#236db4" stroke="#fff" stroke-width="1"/>
<circle cx="307.9" cy="1019.1" r="6.3" fill="#f07d28" stroke="#fff" stroke-width="1"/>
<circle cx="258.5" cy="1151.5" r="6.3" fill="#289b64" stroke="#fff" stroke-width="1"/>
<circle cx="215.2" cy="1151.5" r="6.3" fill="#d2282d" stroke="#fff" stroke-width="1"/>
<circle cx="253.7" cy="1151.5" r="6.3" fill="#aaaf50" stroke="#fff" stroke-width="1"/>
<circle cx="222.4" cy="1151.5" r="6.3" fill="#1eb9cd" stroke="#fff" stroke-width="1"/>
<circle cx="293.4" cy="1073.2" r="6.3" fill="#aac3e6" stroke="#fff" stroke-width="1"/>
<circle cx="340.4" cy="978.1" r="6.3" fill="#fab978" stroke="#fff" stroke-width="1"/>
<circle cx="240.5" cy="1151.5" r="6.3" fill="#96d282" stroke="#fff" stroke-width="1"/>
<circle cx="276.6" cy="1151.5" r="6.3" fill="#f08c8c" stroke="#fff" stroke-width="1"/>
<text x="196.64" y="985.4" font-size="20.8" fill="#eeac6b" stroke="#eeac6b">HNSCC_epi2</text>
<text x="160.95" y="1035.9" font-size="20.8" fill="#de7426" stroke="#de7426">pancancer_episen</text>
<text x="164.14" y="1091.8" font-size="20.8" fill="#9ab5da" stroke="#9ab5da">HNSCC_epi1</text>
<rect x="399.3" y="961.3" width="205.8" height="201.1" fill="none" stroke="#000" stroke-width="2.8"/>
<line x1="392.3" y1="979.3" x2="399.3" y2="979.3" stroke="#000" stroke-width="2.8"/>
<line x1="392.3" y1="1066" x2="399.3" y2="1066" stroke="#000" stroke-width="2.8"/>
<line x1="392.3" y1="1152.7" x2="399.3" y2="1152.7" stroke="#000" stroke-width="2.8"/>
<line x1="394.3" y1="1022.7" x2="399.3" y2="1022.7" stroke="#bbb" stroke-width="1"/>
<line x1="394.3" y1="1109.3" x2="399.3" y2="1109.3" stroke="#bbb" stroke-width="1"/>
<line x1="399.3" y1="1162.4" x2="399.3" y2="1169.9" stroke="#000" stroke-width="2.9"/>
<line x1="502.2" y1="1162.4" x2="502.2" y2="1169.9" stroke="#000" stroke-width="2.9"/>
<line x1="605.1" y1="1162.4" x2="605.1" y2="1169.9" stroke="#000" stroke-width="2.9"/>
<text x="378.76" y="1190.6" font-size="24.8" stroke="#000">−1</text>
<text x="495.26" y="1190.6" font-size="24.8" stroke="#000">0</text>
<text x="596.78" y="1190.6" font-size="24.8" stroke="#000">1</text>
<text x="482.28" y="955.3" font-size="24.8" stroke="#000">MP7</text>
<circle cx="540.1" cy="1139" r="6.3" fill="#f07d28" stroke="#fff" stroke-width="1"/>
<circle cx="570.2" cy="1123.8" r="6.3" fill="#d2282d" stroke="#fff" stroke-width="1"/>
<circle cx="505.5" cy="1153.4" r="6.3" fill="#7350a5" stroke="#fff" stroke-width="1"/>
<circle cx="482.3" cy="1153.4" r="6.3" fill="#dc78be" stroke="#fff" stroke-width="1"/>
<circle cx="469.1" cy="1153.4" r="6.3" fill="#aaaf50" stroke="#fff" stroke-width="1"/>
<circle cx="526.8" cy="1153.4" r="6.3" fill="#1eb9cd" stroke="#fff" stroke-width="1"/>
<circle cx="540.8" cy="1107.7" r="6.3" fill="#aac3e6" stroke="#fff" stroke-width="1"/>
<circle cx="451.5" cy="1153.4" r="6.3" fill="#fab978" stroke="#fff" stroke-width="1"/>
<circle cx="516.7" cy="1153.4" r="6.3" fill="#96d282" stroke="#fff" stroke-width="1"/>
<circle cx="495.1" cy="1153.4" r="6.3" fill="#f08c8c" stroke="#fff" stroke-width="1"/>
<text x="412.04" y="1093.7" font-size="20.8" fill="#9ab5da" stroke="#9ab5da">HNSCC_epi1</text>
<text x="399.25" y="1122.6" font-size="20.8" fill="#b73135" stroke="#b73135">pancancer_immune</text>
<text x="399.95" y="1139.4" font-size="20.8" fill="#de7426" stroke="#de7426">pancancer_episen</text>
<rect x="644.1" y="961.3" width="203.4" height="199.2" fill="none" stroke="#000" stroke-width="2.8"/>
<line x1="637.1" y1="979.3" x2="644.1" y2="979.3" stroke="#000" stroke-width="2.8"/>
<line x1="637.1" y1="1021.5" x2="644.1" y2="1021.5" stroke="#000" stroke-width="2.8"/>
<line x1="637.1" y1="1066" x2="644.1" y2="1066" stroke="#000" stroke-width="2.8"/>
<line x1="637.1" y1="1108.1" x2="644.1" y2="1108.1" stroke="#000" stroke-width="2.8"/>
<line x1="637.1" y1="1151" x2="644.1" y2="1151" stroke="#000" stroke-width="2.8"/>
<line x1="644.1" y1="1160.5" x2="644.1" y2="1168.0" stroke="#000" stroke-width="2.9"/>
<line x1="745.8" y1="1160.5" x2="745.8" y2="1168.0" stroke="#000" stroke-width="2.9"/>
<line x1="847.5" y1="1160.5" x2="847.5" y2="1168.0" stroke="#000" stroke-width="2.9"/>
<text x="622.36" y="1190.6" font-size="24.8" stroke="#000">−1</text>
<text x="738.86" y="1190.6" font-size="24.8" stroke="#000">0</text>
<text x="839.18" y="1190.6" font-size="24.8" stroke="#000">1</text>
<text x="725.88" y="956" font-size="24.8" stroke="#000">MP8</text>
<circle cx="825.8" cy="1073.2" r="6.3" fill="#f07d28" stroke="#fff" stroke-width="1"/>
<circle cx="777.7" cy="1151" r="6.3" fill="#289b64" stroke="#fff" stroke-width="1"/>
<circle cx="738.4" cy="1136.3" r="6.3" fill="#d2282d" stroke="#fff" stroke-width="1"/>
<circle cx="722.3" cy="1151" r="6.3" fill="#dc78be" stroke="#fff" stroke-width="1"/>
<circle cx="709.1" cy="1151" r="6.3" fill="#aaaf50" stroke="#fff" stroke-width="1"/>
<circle cx="731" cy="1151" r="6.3" fill="#1eb9cd" stroke="#fff" stroke-width="1"/>
<circle cx="828.2" cy="1018.6" r="6.3" fill="#aac3e6" stroke="#fff" stroke-width="1"/>
<circle cx="734" cy="1151" r="6.3" fill="#aac3e6" stroke="#fff" stroke-width="1"/>
<circle cx="746.4" cy="1151" r="6.3" fill="#96d282" stroke="#fff" stroke-width="1"/>
<circle cx="788.5" cy="1151" r="6.3" fill="#f08c8c" stroke="#fff" stroke-width="1"/>
<text x="690.04" y="1023.4" font-size="20.8" fill="#9ab5da" stroke="#9ab5da">HNSCC_epi1</text>
<text x="658.45" y="1094.2" font-size="20.8" fill="#de7426" stroke="#de7426">pancancer_episen</text>
<circle cx="1121.9" cy="736.2" r="7.8" fill="#236db4"/>
<text x="1137.71" y="743.1" font-size="24.9" stroke="#000">pancancer_emt</text>
<circle cx="1121.9" cy="772.6" r="7.8" fill="#f07d28"/>
<text x="1137.71" y="779.5" font-size="24.9" stroke="#000">pancancer_episen</text>
<circle cx="1121.9" cy="809.0" r="7.8" fill="#289b64"/>
<text x="1137.71" y="816.0" font-size="24.9" stroke="#000">pancancer_hypoxia</text>
<circle cx="1121.9" cy="845.4" r="7.8" fill="#d2282d"/>
<text x="1137.71" y="852.4" font-size="24.9" stroke="#000">pancancer_immune</text>
<circle cx="1121.9" cy="881.8" r="7.8" fill="#7350a5"/>
<text x="1137.71" y="888.8" font-size="24.9" stroke="#000">pancancer_stress</text>
<circle cx="1121.9" cy="918.2" r="7.8" fill="#8c564b"/>
<text x="1137.71" y="925.2" font-size="24.9" stroke="#000">pancancer_g1s</text>
<circle cx="1121.9" cy="954.6" r="7.8" fill="#dc78be"/>
<text x="1137.71" y="961.7" font-size="24.9" stroke="#000">pancancer_g2m</text>
<circle cx="1121.9" cy="991.0" r="7.8" fill="#aaaf50"/>
<text x="1137.21" y="998.1" font-size="24.9" stroke="#000">HNSCC_Cell_cycle</text>
<circle cx="1121.9" cy="1027.4" r="7.8" fill="#1eb9cd"/>
<text x="1137.21" y="1034.5" font-size="24.9" stroke="#000">HNSCC_EMT</text>
<circle cx="1121.9" cy="1063.8" r="7.8" fill="#aac3e6"/>
<text x="1137.21" y="1071.0" font-size="24.9" stroke="#000">HNSCC_epi1</text>
<circle cx="1121.9" cy="1100.2" r="7.8" fill="#fab978"/>
<text x="1137.21" y="1107.4" font-size="24.9" stroke="#000">HNSCC_epi2</text>
<circle cx="1121.9" cy="1136.6" r="7.8" fill="#96d282"/>
<text x="1137.21" y="1143.8" font-size="24.9" stroke="#000">HNSCC_stress</text>
<circle cx="1121.9" cy="1173.0" r="7.8" fill="#f08c8c"/>
<text x="1137.21" y="1180.3" font-size="24.9" stroke="#000">HNSCC_Hypoxia</text>
</g>
</svg></body></html>
